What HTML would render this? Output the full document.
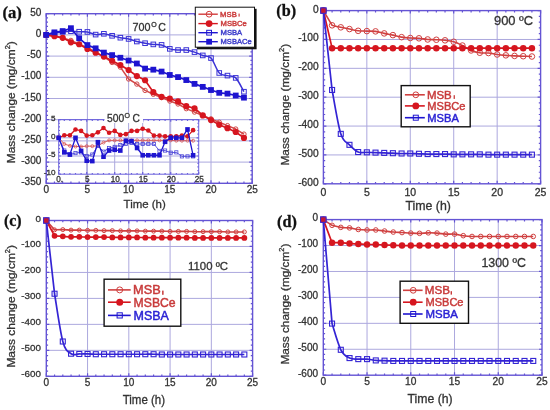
<!DOCTYPE html>
<html><head><meta charset="utf-8"><title>Mass change vs time</title>
<style>
html,body{margin:0;padding:0;background:#fff;}
svg{display:block;will-change:transform;}
svg text{font-family:"Liberation Sans",sans-serif;stroke-width:0.3px;}
svg text.lg{stroke-width:0.45px;}
</style></head>
<body>
<svg width="550" height="410" viewBox="0 0 550 410">
<rect width="550" height="410" fill="#fff"/>
<g fill="#333">
<line x1="46.2" y1="162.1" x2="252.2" y2="162.1" stroke="#aca8de" stroke-width="1"/>
<line x1="46.2" y1="140.9" x2="252.2" y2="140.9" stroke="#aca8de" stroke-width="1"/>
<line x1="46.2" y1="119.7" x2="252.2" y2="119.7" stroke="#aca8de" stroke-width="1"/>
<line x1="46.2" y1="98.5" x2="252.2" y2="98.5" stroke="#aca8de" stroke-width="1"/>
<line x1="46.2" y1="77.3" x2="252.2" y2="77.3" stroke="#aca8de" stroke-width="1"/>
<line x1="46.2" y1="56.1" x2="252.2" y2="56.1" stroke="#aca8de" stroke-width="1"/>
<line x1="46.2" y1="34.9" x2="252.2" y2="34.9" stroke="#aca8de" stroke-width="1"/>
<line x1="87.4" y1="13.7" x2="87.4" y2="183.3" stroke="#aca8de" stroke-width="1"/>
<line x1="128.6" y1="13.7" x2="128.6" y2="183.3" stroke="#aca8de" stroke-width="1"/>
<line x1="169.8" y1="13.7" x2="169.8" y2="183.3" stroke="#aca8de" stroke-width="1"/>
<line x1="211" y1="13.7" x2="211" y2="183.3" stroke="#aca8de" stroke-width="1"/>
<path d="M46.2 183.3h3M252.2 183.3h-3M46.2 179.06h1.8M252.2 179.06h-1.8M46.2 174.82h1.8M252.2 174.82h-1.8M46.2 170.58h1.8M252.2 170.58h-1.8M46.2 166.34h1.8M252.2 166.34h-1.8M46.2 162.1h3M252.2 162.1h-3M46.2 157.86h1.8M252.2 157.86h-1.8M46.2 153.62h1.8M252.2 153.62h-1.8M46.2 149.38h1.8M252.2 149.38h-1.8M46.2 145.14h1.8M252.2 145.14h-1.8M46.2 140.9h3M252.2 140.9h-3M46.2 136.66h1.8M252.2 136.66h-1.8M46.2 132.42h1.8M252.2 132.42h-1.8M46.2 128.18h1.8M252.2 128.18h-1.8M46.2 123.94h1.8M252.2 123.94h-1.8M46.2 119.7h3M252.2 119.7h-3M46.2 115.46h1.8M252.2 115.46h-1.8M46.2 111.22h1.8M252.2 111.22h-1.8M46.2 106.98h1.8M252.2 106.98h-1.8M46.2 102.74h1.8M252.2 102.74h-1.8M46.2 98.5h3M252.2 98.5h-3M46.2 94.26h1.8M252.2 94.26h-1.8M46.2 90.02h1.8M252.2 90.02h-1.8M46.2 85.78h1.8M252.2 85.78h-1.8M46.2 81.54h1.8M252.2 81.54h-1.8M46.2 77.3h3M252.2 77.3h-3M46.2 73.06h1.8M252.2 73.06h-1.8M46.2 68.82h1.8M252.2 68.82h-1.8M46.2 64.58h1.8M252.2 64.58h-1.8M46.2 60.34h1.8M252.2 60.34h-1.8M46.2 56.1h3M252.2 56.1h-3M46.2 51.86h1.8M252.2 51.86h-1.8M46.2 47.62h1.8M252.2 47.62h-1.8M46.2 43.38h1.8M252.2 43.38h-1.8M46.2 39.14h1.8M252.2 39.14h-1.8M46.2 34.9h3M252.2 34.9h-3M46.2 30.66h1.8M252.2 30.66h-1.8M46.2 26.42h1.8M252.2 26.42h-1.8M46.2 22.18h1.8M252.2 22.18h-1.8M46.2 17.94h1.8M252.2 17.94h-1.8M46.2 13.7h3M252.2 13.7h-3M46.2 183.3v-3M46.2 13.7v3M54.44 183.3v-1.8M54.44 13.7v1.8M62.68 183.3v-1.8M62.68 13.7v1.8M70.92 183.3v-1.8M70.92 13.7v1.8M79.16 183.3v-1.8M79.16 13.7v1.8M87.4 183.3v-3M87.4 13.7v3M95.64 183.3v-1.8M95.64 13.7v1.8M103.88 183.3v-1.8M103.88 13.7v1.8M112.12 183.3v-1.8M112.12 13.7v1.8M120.36 183.3v-1.8M120.36 13.7v1.8M128.6 183.3v-3M128.6 13.7v3M136.84 183.3v-1.8M136.84 13.7v1.8M145.08 183.3v-1.8M145.08 13.7v1.8M153.32 183.3v-1.8M153.32 13.7v1.8M161.56 183.3v-1.8M161.56 13.7v1.8M169.8 183.3v-3M169.8 13.7v3M178.04 183.3v-1.8M178.04 13.7v1.8M186.28 183.3v-1.8M186.28 13.7v1.8M194.52 183.3v-1.8M194.52 13.7v1.8M202.76 183.3v-1.8M202.76 13.7v1.8M211 183.3v-3M211 13.7v3M219.24 183.3v-1.8M219.24 13.7v1.8M227.48 183.3v-1.8M227.48 13.7v1.8M235.72 183.3v-1.8M235.72 13.7v1.8M243.96 183.3v-1.8M243.96 13.7v1.8M252.2 183.3v-3M252.2 13.7v3" stroke="#6454d4" stroke-width="1.2" fill="none"/>
<rect x="46.2" y="13.7" width="206" height="169.6" fill="none" stroke="#6454d4" stroke-width="1.4"/>
<text x="41.3" y="185.3" font-size="10" text-anchor="end" stroke="#333">-350</text>
<text x="41.3" y="164.1" font-size="10" text-anchor="end" stroke="#333">-300</text>
<text x="41.3" y="142.9" font-size="10" text-anchor="end" stroke="#333">-250</text>
<text x="41.3" y="121.7" font-size="10" text-anchor="end" stroke="#333">-200</text>
<text x="41.3" y="100.5" font-size="10" text-anchor="end" stroke="#333">-150</text>
<text x="41.3" y="79.3" font-size="10" text-anchor="end" stroke="#333">-100</text>
<text x="41.3" y="58.1" font-size="10" text-anchor="end" stroke="#333">-50</text>
<text x="41.3" y="36.9" font-size="10" text-anchor="end" stroke="#333">0</text>
<text x="41.3" y="15.7" font-size="10" text-anchor="end" stroke="#333">50</text>
<text x="46.2" y="193.1" font-size="10" text-anchor="middle" stroke="#333">0</text>
<text x="87.4" y="193.1" font-size="10" text-anchor="middle" stroke="#333">5</text>
<text x="128.6" y="193.1" font-size="10" text-anchor="middle" stroke="#333">10</text>
<text x="169.8" y="193.1" font-size="10" text-anchor="middle" stroke="#333">15</text>
<text x="211" y="193.1" font-size="10" text-anchor="middle" stroke="#333">20</text>
<text x="252.2" y="193.1" font-size="10" text-anchor="middle" stroke="#333">25</text>
<line x1="58.7" y1="156" x2="198.7" y2="156" stroke="#aca8de" stroke-width="1"/>
<line x1="58.7" y1="137.8" x2="198.7" y2="137.8" stroke="#aca8de" stroke-width="1"/>
<line x1="86.7" y1="119.6" x2="86.7" y2="174.2" stroke="#aca8de" stroke-width="1"/>
<line x1="114.7" y1="119.6" x2="114.7" y2="174.2" stroke="#aca8de" stroke-width="1"/>
<line x1="142.7" y1="119.6" x2="142.7" y2="174.2" stroke="#aca8de" stroke-width="1"/>
<line x1="170.7" y1="119.6" x2="170.7" y2="174.2" stroke="#aca8de" stroke-width="1"/>
<path d="M58.7 174.2h2.2M198.7 174.2h-2.2M58.7 170.56h1.3M198.7 170.56h-1.3M58.7 166.92h1.3M198.7 166.92h-1.3M58.7 163.28h1.3M198.7 163.28h-1.3M58.7 159.64h1.3M198.7 159.64h-1.3M58.7 156h2.2M198.7 156h-2.2M58.7 152.36h1.3M198.7 152.36h-1.3M58.7 148.72h1.3M198.7 148.72h-1.3M58.7 145.08h1.3M198.7 145.08h-1.3M58.7 141.44h1.3M198.7 141.44h-1.3M58.7 137.8h2.2M198.7 137.8h-2.2M58.7 134.16h1.3M198.7 134.16h-1.3M58.7 130.52h1.3M198.7 130.52h-1.3M58.7 126.88h1.3M198.7 126.88h-1.3M58.7 123.24h1.3M198.7 123.24h-1.3M58.7 119.6h2.2M198.7 119.6h-2.2M58.7 174.2v-2.2M58.7 119.6v2.2M64.3 174.2v-1.3M64.3 119.6v1.3M69.9 174.2v-1.3M69.9 119.6v1.3M75.5 174.2v-1.3M75.5 119.6v1.3M81.1 174.2v-1.3M81.1 119.6v1.3M86.7 174.2v-2.2M86.7 119.6v2.2M92.3 174.2v-1.3M92.3 119.6v1.3M97.9 174.2v-1.3M97.9 119.6v1.3M103.5 174.2v-1.3M103.5 119.6v1.3M109.1 174.2v-1.3M109.1 119.6v1.3M114.7 174.2v-2.2M114.7 119.6v2.2M120.3 174.2v-1.3M120.3 119.6v1.3M125.9 174.2v-1.3M125.9 119.6v1.3M131.5 174.2v-1.3M131.5 119.6v1.3M137.1 174.2v-1.3M137.1 119.6v1.3M142.7 174.2v-2.2M142.7 119.6v2.2M148.3 174.2v-1.3M148.3 119.6v1.3M153.9 174.2v-1.3M153.9 119.6v1.3M159.5 174.2v-1.3M159.5 119.6v1.3M165.1 174.2v-1.3M165.1 119.6v1.3M170.7 174.2v-2.2M170.7 119.6v2.2M176.3 174.2v-1.3M176.3 119.6v1.3M181.9 174.2v-1.3M181.9 119.6v1.3M187.5 174.2v-1.3M187.5 119.6v1.3M193.1 174.2v-1.3M193.1 119.6v1.3M198.7 174.2v-2.2M198.7 119.6v2.2" stroke="#6c62dc" stroke-width="1.2" fill="none"/>
<rect x="58.7" y="119.6" width="140" height="54.6" fill="none" stroke="#6c62dc" stroke-width="1.0"/>
<text x="55.4" y="120.5" font-size="8.1" text-anchor="end" stroke="#333">5</text>
<text x="55.4" y="138.7" font-size="8.1" text-anchor="end" stroke="#333">0</text>
<text x="55.4" y="156.9" font-size="8.1" text-anchor="end" stroke="#333">-5</text>
<text x="55.4" y="175.1" font-size="8.1" text-anchor="end" stroke="#333">-10</text>
<text x="59.7" y="182" font-size="8.2" text-anchor="middle" stroke="#333">0.</text>
<text x="87.3" y="182" font-size="8.2" text-anchor="middle" stroke="#333">5</text>
<text x="115.3" y="182" font-size="8.2" text-anchor="middle" stroke="#333">10</text>
<text x="143.3" y="182" font-size="8.2" text-anchor="middle" stroke="#333">15</text>
<text x="171.3" y="182" font-size="8.2" text-anchor="middle" stroke="#333">20</text>
<text x="199.3" y="182" font-size="8.2" text-anchor="middle" stroke="#333">25</text>
<polyline points="58.7,137.8 64.3,143.99 69.9,145.81 75.5,146.54 81.1,146.54 86.7,146.17 92.3,146.17 97.9,145.81 103.5,142.53 109.1,140.35 114.7,140.35 120.3,140.35 125.9,140.35 131.5,140.35 137.1,140.35 142.7,140.35 148.3,140.35 153.9,140.35 159.5,140.35 165.1,140.35 170.7,140.35 176.3,140.71 181.9,140.71 187.5,140.71 193.1,140.71" fill="none" stroke="#d85a5a" stroke-width="1.0" stroke-linejoin="round"/>
<circle cx="58.7" cy="137.8" r="1.5" fill="none" stroke="#d85a5a" stroke-width="0.8"/>
<circle cx="64.3" cy="143.99" r="1.5" fill="none" stroke="#d85a5a" stroke-width="0.8"/>
<circle cx="69.9" cy="145.81" r="1.5" fill="none" stroke="#d85a5a" stroke-width="0.8"/>
<circle cx="75.5" cy="146.54" r="1.5" fill="none" stroke="#d85a5a" stroke-width="0.8"/>
<circle cx="81.1" cy="146.54" r="1.5" fill="none" stroke="#d85a5a" stroke-width="0.8"/>
<circle cx="86.7" cy="146.17" r="1.5" fill="none" stroke="#d85a5a" stroke-width="0.8"/>
<circle cx="92.3" cy="146.17" r="1.5" fill="none" stroke="#d85a5a" stroke-width="0.8"/>
<circle cx="97.9" cy="145.81" r="1.5" fill="none" stroke="#d85a5a" stroke-width="0.8"/>
<circle cx="103.5" cy="142.53" r="1.5" fill="none" stroke="#d85a5a" stroke-width="0.8"/>
<circle cx="109.1" cy="140.35" r="1.5" fill="none" stroke="#d85a5a" stroke-width="0.8"/>
<circle cx="114.7" cy="140.35" r="1.5" fill="none" stroke="#d85a5a" stroke-width="0.8"/>
<circle cx="120.3" cy="140.35" r="1.5" fill="none" stroke="#d85a5a" stroke-width="0.8"/>
<circle cx="125.9" cy="140.35" r="1.5" fill="none" stroke="#d85a5a" stroke-width="0.8"/>
<circle cx="131.5" cy="140.35" r="1.5" fill="none" stroke="#d85a5a" stroke-width="0.8"/>
<circle cx="137.1" cy="140.35" r="1.5" fill="none" stroke="#d85a5a" stroke-width="0.8"/>
<circle cx="142.7" cy="140.35" r="1.5" fill="none" stroke="#d85a5a" stroke-width="0.8"/>
<circle cx="148.3" cy="140.35" r="1.5" fill="none" stroke="#d85a5a" stroke-width="0.8"/>
<circle cx="153.9" cy="140.35" r="1.5" fill="none" stroke="#d85a5a" stroke-width="0.8"/>
<circle cx="159.5" cy="140.35" r="1.5" fill="none" stroke="#d85a5a" stroke-width="0.8"/>
<circle cx="165.1" cy="140.35" r="1.5" fill="none" stroke="#d85a5a" stroke-width="0.8"/>
<circle cx="170.7" cy="140.35" r="1.5" fill="none" stroke="#d85a5a" stroke-width="0.8"/>
<circle cx="176.3" cy="140.71" r="1.5" fill="none" stroke="#d85a5a" stroke-width="0.8"/>
<circle cx="181.9" cy="140.71" r="1.5" fill="none" stroke="#d85a5a" stroke-width="0.8"/>
<circle cx="187.5" cy="140.71" r="1.5" fill="none" stroke="#d85a5a" stroke-width="0.8"/>
<circle cx="193.1" cy="140.71" r="1.5" fill="none" stroke="#d85a5a" stroke-width="0.8"/>
<polyline points="58.7,137.8 64.3,150.54 69.9,154.54 75.5,153.09 81.1,152.36 86.7,156 92.3,154.54 97.9,145.81 103.5,151.63 109.1,147.99 114.7,146.9 120.3,145.08 125.9,143.99 131.5,142.9 137.1,143.99 142.7,143.99 148.3,143.99 153.9,143.99 159.5,150.9 165.1,150.54 170.7,152.72 176.3,152.36 181.9,156.36 187.5,156.36 193.1,156.36" fill="none" stroke="#4a44d8" stroke-width="0.9" stroke-linejoin="round"/>
<rect x="57.1" y="136.2" width="3.2" height="3.2" fill="none" stroke="#4a44d8" stroke-width="0.8"/>
<rect x="62.7" y="148.94" width="3.2" height="3.2" fill="none" stroke="#4a44d8" stroke-width="0.8"/>
<rect x="68.3" y="152.94" width="3.2" height="3.2" fill="none" stroke="#4a44d8" stroke-width="0.8"/>
<rect x="73.9" y="151.49" width="3.2" height="3.2" fill="none" stroke="#4a44d8" stroke-width="0.8"/>
<rect x="79.5" y="150.76" width="3.2" height="3.2" fill="none" stroke="#4a44d8" stroke-width="0.8"/>
<rect x="85.1" y="154.4" width="3.2" height="3.2" fill="none" stroke="#4a44d8" stroke-width="0.8"/>
<rect x="90.7" y="152.94" width="3.2" height="3.2" fill="none" stroke="#4a44d8" stroke-width="0.8"/>
<rect x="96.3" y="144.21" width="3.2" height="3.2" fill="none" stroke="#4a44d8" stroke-width="0.8"/>
<rect x="101.9" y="150.03" width="3.2" height="3.2" fill="none" stroke="#4a44d8" stroke-width="0.8"/>
<rect x="107.5" y="146.39" width="3.2" height="3.2" fill="none" stroke="#4a44d8" stroke-width="0.8"/>
<rect x="113.1" y="145.3" width="3.2" height="3.2" fill="none" stroke="#4a44d8" stroke-width="0.8"/>
<rect x="118.7" y="143.48" width="3.2" height="3.2" fill="none" stroke="#4a44d8" stroke-width="0.8"/>
<rect x="124.3" y="142.39" width="3.2" height="3.2" fill="none" stroke="#4a44d8" stroke-width="0.8"/>
<rect x="129.9" y="141.3" width="3.2" height="3.2" fill="none" stroke="#4a44d8" stroke-width="0.8"/>
<rect x="135.5" y="142.39" width="3.2" height="3.2" fill="none" stroke="#4a44d8" stroke-width="0.8"/>
<rect x="141.1" y="142.39" width="3.2" height="3.2" fill="none" stroke="#4a44d8" stroke-width="0.8"/>
<rect x="146.7" y="142.39" width="3.2" height="3.2" fill="none" stroke="#4a44d8" stroke-width="0.8"/>
<rect x="152.3" y="142.39" width="3.2" height="3.2" fill="none" stroke="#4a44d8" stroke-width="0.8"/>
<rect x="157.9" y="149.3" width="3.2" height="3.2" fill="none" stroke="#4a44d8" stroke-width="0.8"/>
<rect x="163.5" y="148.94" width="3.2" height="3.2" fill="none" stroke="#4a44d8" stroke-width="0.8"/>
<rect x="169.1" y="151.12" width="3.2" height="3.2" fill="none" stroke="#4a44d8" stroke-width="0.8"/>
<rect x="174.7" y="150.76" width="3.2" height="3.2" fill="none" stroke="#4a44d8" stroke-width="0.8"/>
<rect x="180.3" y="154.76" width="3.2" height="3.2" fill="none" stroke="#4a44d8" stroke-width="0.8"/>
<rect x="185.9" y="154.76" width="3.2" height="3.2" fill="none" stroke="#4a44d8" stroke-width="0.8"/>
<rect x="191.5" y="154.76" width="3.2" height="3.2" fill="none" stroke="#4a44d8" stroke-width="0.8"/>
<polyline points="58.7,137.8 64.3,135.25 69.9,135.25 75.5,129.43 81.1,130.88 86.7,135.62 92.3,135.25 97.9,132.34 103.5,127.97 109.1,132.7 114.7,130.88 120.3,134.89 125.9,134.16 131.5,130.88 137.1,130.88 142.7,128.7 148.3,130.52 153.9,135.62 159.5,135.62 165.1,136.34 170.7,136.34 176.3,136.34 181.9,135.62 187.5,136.34 193.1,130.16" fill="none" stroke="#d6161f" stroke-width="1.3" stroke-linejoin="round"/>
<circle cx="58.7" cy="137.8" r="2.3" fill="#d6161f"/>
<circle cx="64.3" cy="135.25" r="2.3" fill="#d6161f"/>
<circle cx="69.9" cy="135.25" r="2.3" fill="#d6161f"/>
<circle cx="75.5" cy="129.43" r="2.3" fill="#d6161f"/>
<circle cx="81.1" cy="130.88" r="2.3" fill="#d6161f"/>
<circle cx="86.7" cy="135.62" r="2.3" fill="#d6161f"/>
<circle cx="92.3" cy="135.25" r="2.3" fill="#d6161f"/>
<circle cx="97.9" cy="132.34" r="2.3" fill="#d6161f"/>
<circle cx="103.5" cy="127.97" r="2.3" fill="#d6161f"/>
<circle cx="109.1" cy="132.7" r="2.3" fill="#d6161f"/>
<circle cx="114.7" cy="130.88" r="2.3" fill="#d6161f"/>
<circle cx="120.3" cy="134.89" r="2.3" fill="#d6161f"/>
<circle cx="125.9" cy="134.16" r="2.3" fill="#d6161f"/>
<circle cx="131.5" cy="130.88" r="2.3" fill="#d6161f"/>
<circle cx="137.1" cy="130.88" r="2.3" fill="#d6161f"/>
<circle cx="142.7" cy="128.7" r="2.3" fill="#d6161f"/>
<circle cx="148.3" cy="130.52" r="2.3" fill="#d6161f"/>
<circle cx="153.9" cy="135.62" r="2.3" fill="#d6161f"/>
<circle cx="159.5" cy="135.62" r="2.3" fill="#d6161f"/>
<circle cx="165.1" cy="136.34" r="2.3" fill="#d6161f"/>
<circle cx="170.7" cy="136.34" r="2.3" fill="#d6161f"/>
<circle cx="176.3" cy="136.34" r="2.3" fill="#d6161f"/>
<circle cx="181.9" cy="135.62" r="2.3" fill="#d6161f"/>
<circle cx="187.5" cy="136.34" r="2.3" fill="#d6161f"/>
<circle cx="193.1" cy="130.16" r="2.3" fill="#d6161f"/>
<polyline points="58.7,137.8 64.3,152.36 69.9,154.54 75.5,137.8 81.1,150.9 86.7,160.73 92.3,161.1 97.9,142.17 103.5,156.73 109.1,150.54 114.7,149.81 120.3,150.54 125.9,140.71 131.5,141.08 137.1,147.99 142.7,155.27 148.3,155.27 153.9,155.27 159.5,155.27 165.1,141.8 170.7,137.8 176.3,137.8 181.9,137.8 187.5,129.43 193.1,155.27" fill="none" stroke="#1e14d0" stroke-width="1.3" stroke-linejoin="round"/>
<rect x="56.4" y="135.5" width="4.6" height="4.6" fill="#1e14d0"/>
<rect x="62" y="150.06" width="4.6" height="4.6" fill="#1e14d0"/>
<rect x="67.6" y="152.24" width="4.6" height="4.6" fill="#1e14d0"/>
<rect x="73.2" y="135.5" width="4.6" height="4.6" fill="#1e14d0"/>
<rect x="78.8" y="148.6" width="4.6" height="4.6" fill="#1e14d0"/>
<rect x="84.4" y="158.43" width="4.6" height="4.6" fill="#1e14d0"/>
<rect x="90" y="158.8" width="4.6" height="4.6" fill="#1e14d0"/>
<rect x="95.6" y="139.87" width="4.6" height="4.6" fill="#1e14d0"/>
<rect x="101.2" y="154.43" width="4.6" height="4.6" fill="#1e14d0"/>
<rect x="106.8" y="148.24" width="4.6" height="4.6" fill="#1e14d0"/>
<rect x="112.4" y="147.51" width="4.6" height="4.6" fill="#1e14d0"/>
<rect x="118" y="148.24" width="4.6" height="4.6" fill="#1e14d0"/>
<rect x="123.6" y="138.41" width="4.6" height="4.6" fill="#1e14d0"/>
<rect x="129.2" y="138.78" width="4.6" height="4.6" fill="#1e14d0"/>
<rect x="134.8" y="145.69" width="4.6" height="4.6" fill="#1e14d0"/>
<rect x="140.4" y="152.97" width="4.6" height="4.6" fill="#1e14d0"/>
<rect x="146" y="152.97" width="4.6" height="4.6" fill="#1e14d0"/>
<rect x="151.6" y="152.97" width="4.6" height="4.6" fill="#1e14d0"/>
<rect x="157.2" y="152.97" width="4.6" height="4.6" fill="#1e14d0"/>
<rect x="162.8" y="139.5" width="4.6" height="4.6" fill="#1e14d0"/>
<rect x="168.4" y="135.5" width="4.6" height="4.6" fill="#1e14d0"/>
<rect x="174" y="135.5" width="4.6" height="4.6" fill="#1e14d0"/>
<rect x="179.6" y="135.5" width="4.6" height="4.6" fill="#1e14d0"/>
<rect x="185.2" y="127.13" width="4.6" height="4.6" fill="#1e14d0"/>
<rect x="190.8" y="152.97" width="4.6" height="4.6" fill="#1e14d0"/>
<rect x="104.5" y="113" width="38.5" height="10" fill="#fff"/>
<text x="107" y="121.7" font-size="10" textLength="17.2" lengthAdjust="spacingAndGlyphs" stroke="#333">500</text>
<text x="124.5" y="117.6" font-size="7" stroke="#333">O</text>
<text x="132.4" y="121.7" font-size="10.4" textLength="7.4" lengthAdjust="spacingAndGlyphs" stroke="#333">C</text>
<polyline points="46.2,34.9 54.44,36.17 62.68,37.87 70.92,40.41 79.16,44.23 87.4,47.62 95.64,51.86 103.88,56.95 112.12,62.46 120.36,67.12 128.6,79 136.84,84.08 145.08,90.44 153.32,94.26 161.56,97.65 169.8,101.04 178.04,104.01 186.28,108.68 194.52,112.07 202.76,115.46 211,118.85 219.24,122.24 227.48,125.64 235.72,129.03 243.96,134.12" fill="none" stroke="#d24848" stroke-width="1.5" stroke-linejoin="round"/>
<circle cx="46.2" cy="34.9" r="2.2" fill="none" stroke="#d24848" stroke-width="1.0"/>
<circle cx="54.44" cy="36.17" r="2.2" fill="none" stroke="#d24848" stroke-width="1.0"/>
<circle cx="62.68" cy="37.87" r="2.2" fill="none" stroke="#d24848" stroke-width="1.0"/>
<circle cx="70.92" cy="40.41" r="2.2" fill="none" stroke="#d24848" stroke-width="1.0"/>
<circle cx="79.16" cy="44.23" r="2.2" fill="none" stroke="#d24848" stroke-width="1.0"/>
<circle cx="87.4" cy="47.62" r="2.2" fill="none" stroke="#d24848" stroke-width="1.0"/>
<circle cx="95.64" cy="51.86" r="2.2" fill="none" stroke="#d24848" stroke-width="1.0"/>
<circle cx="103.88" cy="56.95" r="2.2" fill="none" stroke="#d24848" stroke-width="1.0"/>
<circle cx="112.12" cy="62.46" r="2.2" fill="none" stroke="#d24848" stroke-width="1.0"/>
<circle cx="120.36" cy="67.12" r="2.2" fill="none" stroke="#d24848" stroke-width="1.0"/>
<circle cx="128.6" cy="79" r="2.2" fill="none" stroke="#d24848" stroke-width="1.0"/>
<circle cx="136.84" cy="84.08" r="2.2" fill="none" stroke="#d24848" stroke-width="1.0"/>
<circle cx="145.08" cy="90.44" r="2.2" fill="none" stroke="#d24848" stroke-width="1.0"/>
<circle cx="153.32" cy="94.26" r="2.2" fill="none" stroke="#d24848" stroke-width="1.0"/>
<circle cx="161.56" cy="97.65" r="2.2" fill="none" stroke="#d24848" stroke-width="1.0"/>
<circle cx="169.8" cy="101.04" r="2.2" fill="none" stroke="#d24848" stroke-width="1.0"/>
<circle cx="178.04" cy="104.01" r="2.2" fill="none" stroke="#d24848" stroke-width="1.0"/>
<circle cx="186.28" cy="108.68" r="2.2" fill="none" stroke="#d24848" stroke-width="1.0"/>
<circle cx="194.52" cy="112.07" r="2.2" fill="none" stroke="#d24848" stroke-width="1.0"/>
<circle cx="202.76" cy="115.46" r="2.2" fill="none" stroke="#d24848" stroke-width="1.0"/>
<circle cx="211" cy="118.85" r="2.2" fill="none" stroke="#d24848" stroke-width="1.0"/>
<circle cx="219.24" cy="122.24" r="2.2" fill="none" stroke="#d24848" stroke-width="1.0"/>
<circle cx="227.48" cy="125.64" r="2.2" fill="none" stroke="#d24848" stroke-width="1.0"/>
<circle cx="235.72" cy="129.03" r="2.2" fill="none" stroke="#d24848" stroke-width="1.0"/>
<circle cx="243.96" cy="134.12" r="2.2" fill="none" stroke="#d24848" stroke-width="1.0"/>
<path d="M46.2 34.9L54.44 33.2C55.81 32.99 59.93 32.26 62.68 31.93C65.43 31.6 68.17 31.25 70.92 31.21C73.67 31.18 76.41 31.6 79.16 31.72C81.91 31.84 84.65 31.45 87.4 31.93C90.15 32.41 92.89 34.29 95.64 34.6C98.39 34.91 101.13 33.6 103.88 33.8C106.63 34 109.37 35.14 112.12 35.79C114.87 36.44 117.61 37.18 120.36 37.7C123.11 38.22 125.85 38.29 128.6 38.93C131.35 39.56 134.09 40.8 136.84 41.51C139.59 42.23 142.33 42.73 145.08 43.21C147.83 43.69 150.57 44.11 153.32 44.4C156.07 44.68 158.81 44.16 161.56 44.91C164.31 45.65 167.05 47.99 169.8 48.85C172.55 49.7 175.29 49.84 178.04 50.04C180.79 50.23 183.53 49.69 186.28 50.04C189.03 50.38 191.77 51.22 194.52 52.11C197.27 53.01 200.01 54.43 202.76 55.42C205.51 56.41 208.25 55.12 211 58.05C213.75 60.98 216.49 70.05 219.24 72.98C221.99 75.9 224.73 74.78 227.48 75.6C230.23 76.42 232.97 75.21 235.72 77.89C238.47 80.58 242.59 89.41 243.96 91.72" fill="none" stroke="#3a32d6" stroke-width="1.5" stroke-linejoin="round"/>
<rect x="43.9" y="32.6" width="4.6" height="4.6" fill="none" stroke="#3a32d6" stroke-width="1.0"/>
<rect x="52.14" y="30.9" width="4.6" height="4.6" fill="none" stroke="#3a32d6" stroke-width="1.0"/>
<rect x="60.38" y="29.63" width="4.6" height="4.6" fill="none" stroke="#3a32d6" stroke-width="1.0"/>
<rect x="68.62" y="28.91" width="4.6" height="4.6" fill="none" stroke="#3a32d6" stroke-width="1.0"/>
<rect x="76.86" y="29.42" width="4.6" height="4.6" fill="none" stroke="#3a32d6" stroke-width="1.0"/>
<rect x="85.1" y="29.63" width="4.6" height="4.6" fill="none" stroke="#3a32d6" stroke-width="1.0"/>
<rect x="93.34" y="32.3" width="4.6" height="4.6" fill="none" stroke="#3a32d6" stroke-width="1.0"/>
<rect x="101.58" y="31.5" width="4.6" height="4.6" fill="none" stroke="#3a32d6" stroke-width="1.0"/>
<rect x="109.82" y="33.49" width="4.6" height="4.6" fill="none" stroke="#3a32d6" stroke-width="1.0"/>
<rect x="118.06" y="35.4" width="4.6" height="4.6" fill="none" stroke="#3a32d6" stroke-width="1.0"/>
<rect x="126.3" y="36.63" width="4.6" height="4.6" fill="none" stroke="#3a32d6" stroke-width="1.0"/>
<rect x="134.54" y="39.21" width="4.6" height="4.6" fill="none" stroke="#3a32d6" stroke-width="1.0"/>
<rect x="142.78" y="40.91" width="4.6" height="4.6" fill="none" stroke="#3a32d6" stroke-width="1.0"/>
<rect x="151.02" y="42.1" width="4.6" height="4.6" fill="none" stroke="#3a32d6" stroke-width="1.0"/>
<rect x="159.26" y="42.61" width="4.6" height="4.6" fill="none" stroke="#3a32d6" stroke-width="1.0"/>
<rect x="167.5" y="46.55" width="4.6" height="4.6" fill="none" stroke="#3a32d6" stroke-width="1.0"/>
<rect x="175.74" y="47.74" width="4.6" height="4.6" fill="none" stroke="#3a32d6" stroke-width="1.0"/>
<rect x="183.98" y="47.74" width="4.6" height="4.6" fill="none" stroke="#3a32d6" stroke-width="1.0"/>
<rect x="192.22" y="49.81" width="4.6" height="4.6" fill="none" stroke="#3a32d6" stroke-width="1.0"/>
<rect x="200.46" y="53.12" width="4.6" height="4.6" fill="none" stroke="#3a32d6" stroke-width="1.0"/>
<rect x="208.7" y="55.75" width="4.6" height="4.6" fill="none" stroke="#3a32d6" stroke-width="1.0"/>
<rect x="216.94" y="70.68" width="4.6" height="4.6" fill="none" stroke="#3a32d6" stroke-width="1.0"/>
<rect x="225.18" y="73.3" width="4.6" height="4.6" fill="none" stroke="#3a32d6" stroke-width="1.0"/>
<rect x="233.42" y="75.59" width="4.6" height="4.6" fill="none" stroke="#3a32d6" stroke-width="1.0"/>
<rect x="241.66" y="89.42" width="4.6" height="4.6" fill="none" stroke="#3a32d6" stroke-width="1.0"/>
<polyline points="46.2,34.9 54.44,36.17 62.68,37.87 70.92,42.32 79.16,44.23 87.4,48.89 95.64,52.71 103.88,56.52 112.12,60.76 120.36,65 128.6,70.09 136.84,76.03 145.08,80.27 153.32,92.14 161.56,96.8 169.8,98.5 178.04,101.47 186.28,106.13 194.52,108.25 202.76,115.46 211,120.12 219.24,124.79 227.48,128.18 235.72,132 243.96,137.93" fill="none" stroke="#d6161f" stroke-width="1.7" stroke-linejoin="round"/>
<circle cx="46.2" cy="34.9" r="3.1" fill="#d6161f"/>
<circle cx="54.44" cy="36.17" r="3.1" fill="#d6161f"/>
<circle cx="62.68" cy="37.87" r="3.1" fill="#d6161f"/>
<circle cx="70.92" cy="42.32" r="3.1" fill="#d6161f"/>
<circle cx="79.16" cy="44.23" r="3.1" fill="#d6161f"/>
<circle cx="87.4" cy="48.89" r="3.1" fill="#d6161f"/>
<circle cx="95.64" cy="52.71" r="3.1" fill="#d6161f"/>
<circle cx="103.88" cy="56.52" r="3.1" fill="#d6161f"/>
<circle cx="112.12" cy="60.76" r="3.1" fill="#d6161f"/>
<circle cx="120.36" cy="65" r="3.1" fill="#d6161f"/>
<circle cx="128.6" cy="70.09" r="3.1" fill="#d6161f"/>
<circle cx="136.84" cy="76.03" r="3.1" fill="#d6161f"/>
<circle cx="145.08" cy="80.27" r="3.1" fill="#d6161f"/>
<circle cx="153.32" cy="92.14" r="3.1" fill="#d6161f"/>
<circle cx="161.56" cy="96.8" r="3.1" fill="#d6161f"/>
<circle cx="169.8" cy="98.5" r="3.1" fill="#d6161f"/>
<circle cx="178.04" cy="101.47" r="3.1" fill="#d6161f"/>
<circle cx="186.28" cy="106.13" r="3.1" fill="#d6161f"/>
<circle cx="194.52" cy="108.25" r="3.1" fill="#d6161f"/>
<circle cx="202.76" cy="115.46" r="3.1" fill="#d6161f"/>
<circle cx="211" cy="120.12" r="3.1" fill="#d6161f"/>
<circle cx="219.24" cy="124.79" r="3.1" fill="#d6161f"/>
<circle cx="227.48" cy="128.18" r="3.1" fill="#d6161f"/>
<circle cx="235.72" cy="132" r="3.1" fill="#d6161f"/>
<circle cx="243.96" cy="137.93" r="3.1" fill="#d6161f"/>
<polyline points="46.2,34.9 54.44,32.36 62.68,31.08 70.92,28.2 79.16,38.29 87.4,45.08 95.64,48.34 103.88,52.62 112.12,55.12 120.36,57.75 128.6,60.55 136.84,63.52 145.08,68.61 153.32,69.67 161.56,71.58 169.8,74.97 178.04,77.09 186.28,80.06 194.52,83.87 202.76,86.88 211,90.02 219.24,92.82 227.48,93.62 235.72,95.53 243.96,97.65" fill="none" stroke="#1e14d0" stroke-width="1.7" stroke-linejoin="round"/>
<rect x="43.3" y="32" width="5.8" height="5.8" fill="#1e14d0"/>
<rect x="51.54" y="29.46" width="5.8" height="5.8" fill="#1e14d0"/>
<rect x="59.78" y="28.18" width="5.8" height="5.8" fill="#1e14d0"/>
<rect x="68.02" y="25.3" width="5.8" height="5.8" fill="#1e14d0"/>
<rect x="76.26" y="35.39" width="5.8" height="5.8" fill="#1e14d0"/>
<rect x="84.5" y="42.18" width="5.8" height="5.8" fill="#1e14d0"/>
<rect x="92.74" y="45.44" width="5.8" height="5.8" fill="#1e14d0"/>
<rect x="100.98" y="49.72" width="5.8" height="5.8" fill="#1e14d0"/>
<rect x="109.22" y="52.22" width="5.8" height="5.8" fill="#1e14d0"/>
<rect x="117.46" y="54.85" width="5.8" height="5.8" fill="#1e14d0"/>
<rect x="125.7" y="57.65" width="5.8" height="5.8" fill="#1e14d0"/>
<rect x="133.94" y="60.62" width="5.8" height="5.8" fill="#1e14d0"/>
<rect x="142.18" y="65.71" width="5.8" height="5.8" fill="#1e14d0"/>
<rect x="150.42" y="66.77" width="5.8" height="5.8" fill="#1e14d0"/>
<rect x="158.66" y="68.68" width="5.8" height="5.8" fill="#1e14d0"/>
<rect x="166.9" y="72.07" width="5.8" height="5.8" fill="#1e14d0"/>
<rect x="175.14" y="74.19" width="5.8" height="5.8" fill="#1e14d0"/>
<rect x="183.38" y="77.16" width="5.8" height="5.8" fill="#1e14d0"/>
<rect x="191.62" y="80.97" width="5.8" height="5.8" fill="#1e14d0"/>
<rect x="199.86" y="83.98" width="5.8" height="5.8" fill="#1e14d0"/>
<rect x="208.1" y="87.12" width="5.8" height="5.8" fill="#1e14d0"/>
<rect x="216.34" y="89.92" width="5.8" height="5.8" fill="#1e14d0"/>
<rect x="224.58" y="90.72" width="5.8" height="5.8" fill="#1e14d0"/>
<rect x="232.82" y="92.63" width="5.8" height="5.8" fill="#1e14d0"/>
<rect x="241.06" y="94.75" width="5.8" height="5.8" fill="#1e14d0"/>
<text x="132.6" y="30.8" font-size="11" textLength="18" lengthAdjust="spacingAndGlyphs" stroke="#333">700</text>
<text x="151.2" y="26.9" font-size="7" stroke="#333">O</text>
<text x="158.3" y="30.8" font-size="11" textLength="7.6" lengthAdjust="spacingAndGlyphs" stroke="#333">C</text>
<rect x="196.9" y="8.8" width="59.7" height="40.5" fill="#111"/>
<rect x="195.3" y="7.2" width="59.2" height="40" fill="#fff" stroke="#111" stroke-width="1.0"/>
<line x1="198.4" y1="14.2" x2="217.8" y2="14.2" stroke="#d23c3c" stroke-width="1.4"/>
<circle cx="209.1" cy="14.2" r="2.9" fill="none" stroke="#d23c3c" stroke-width="1.0"/>
<text class="lg" x="220.12" y="16.94" font-size="7.6" fill="#cc4040" textLength="16.66" lengthAdjust="spacingAndGlyphs" stroke="#cc4040">MSB</text>
<rect x="238.5" y="13.6" width="1.2" height="3" fill="#cc4040"/>
<line x1="198.4" y1="23.6" x2="217.8" y2="23.6" stroke="#d6161f" stroke-width="1.4"/>
<circle cx="209.1" cy="23.6" r="3.4" fill="#d6161f"/>
<text class="lg" x="220.6" y="26.34" font-size="7.6" fill="#cc4040" textLength="26.2" lengthAdjust="spacingAndGlyphs" stroke="#cc4040">MSBCe</text>
<line x1="198.4" y1="32.7" x2="217.8" y2="32.7" stroke="#1e14d0" stroke-width="1.4"/>
<rect x="206.7" y="30.3" width="4.8" height="4.8" fill="none" stroke="#1e14d0" stroke-width="1.0"/>
<text class="lg" x="220.6" y="35.44" font-size="7.6" fill="#4040cc" textLength="21.6" lengthAdjust="spacingAndGlyphs" stroke="#4040cc">MSBA</text>
<line x1="198.4" y1="41.7" x2="217.8" y2="41.7" stroke="#1e14d0" stroke-width="1.4"/>
<rect x="206.2" y="38.8" width="5.8" height="5.8" fill="#1e14d0"/>
<text class="lg" x="220.6" y="44.44" font-size="7.6" fill="#4040cc" textLength="31" lengthAdjust="spacingAndGlyphs" stroke="#4040cc">MSBACe</text>
<line x1="323.4" y1="154.93" x2="540.6" y2="154.93" stroke="#aca8de" stroke-width="1"/>
<line x1="323.4" y1="126.07" x2="540.6" y2="126.07" stroke="#aca8de" stroke-width="1"/>
<line x1="323.4" y1="97.2" x2="540.6" y2="97.2" stroke="#aca8de" stroke-width="1"/>
<line x1="323.4" y1="68.33" x2="540.6" y2="68.33" stroke="#aca8de" stroke-width="1"/>
<line x1="323.4" y1="39.47" x2="540.6" y2="39.47" stroke="#aca8de" stroke-width="1"/>
<line x1="366.84" y1="10.6" x2="366.84" y2="183.8" stroke="#aca8de" stroke-width="1"/>
<line x1="410.28" y1="10.6" x2="410.28" y2="183.8" stroke="#aca8de" stroke-width="1"/>
<line x1="453.72" y1="10.6" x2="453.72" y2="183.8" stroke="#aca8de" stroke-width="1"/>
<line x1="497.16" y1="10.6" x2="497.16" y2="183.8" stroke="#aca8de" stroke-width="1"/>
<path d="M323.4 183.8h3M540.6 183.8h-3M323.4 178.03h1.8M540.6 178.03h-1.8M323.4 172.25h1.8M540.6 172.25h-1.8M323.4 166.48h1.8M540.6 166.48h-1.8M323.4 160.71h1.8M540.6 160.71h-1.8M323.4 154.93h3M540.6 154.93h-3M323.4 149.16h1.8M540.6 149.16h-1.8M323.4 143.39h1.8M540.6 143.39h-1.8M323.4 137.61h1.8M540.6 137.61h-1.8M323.4 131.84h1.8M540.6 131.84h-1.8M323.4 126.07h3M540.6 126.07h-3M323.4 120.29h1.8M540.6 120.29h-1.8M323.4 114.52h1.8M540.6 114.52h-1.8M323.4 108.75h1.8M540.6 108.75h-1.8M323.4 102.97h1.8M540.6 102.97h-1.8M323.4 97.2h3M540.6 97.2h-3M323.4 91.43h1.8M540.6 91.43h-1.8M323.4 85.65h1.8M540.6 85.65h-1.8M323.4 79.88h1.8M540.6 79.88h-1.8M323.4 74.11h1.8M540.6 74.11h-1.8M323.4 68.33h3M540.6 68.33h-3M323.4 62.56h1.8M540.6 62.56h-1.8M323.4 56.79h1.8M540.6 56.79h-1.8M323.4 51.01h1.8M540.6 51.01h-1.8M323.4 45.24h1.8M540.6 45.24h-1.8M323.4 39.47h3M540.6 39.47h-3M323.4 33.69h1.8M540.6 33.69h-1.8M323.4 27.92h1.8M540.6 27.92h-1.8M323.4 22.15h1.8M540.6 22.15h-1.8M323.4 16.37h1.8M540.6 16.37h-1.8M323.4 10.6h3M540.6 10.6h-3M323.4 183.8v-3M323.4 10.6v3M332.09 183.8v-1.8M332.09 10.6v1.8M340.78 183.8v-1.8M340.78 10.6v1.8M349.46 183.8v-1.8M349.46 10.6v1.8M358.15 183.8v-1.8M358.15 10.6v1.8M366.84 183.8v-3M366.84 10.6v3M375.53 183.8v-1.8M375.53 10.6v1.8M384.22 183.8v-1.8M384.22 10.6v1.8M392.9 183.8v-1.8M392.9 10.6v1.8M401.59 183.8v-1.8M401.59 10.6v1.8M410.28 183.8v-3M410.28 10.6v3M418.97 183.8v-1.8M418.97 10.6v1.8M427.66 183.8v-1.8M427.66 10.6v1.8M436.34 183.8v-1.8M436.34 10.6v1.8M445.03 183.8v-1.8M445.03 10.6v1.8M453.72 183.8v-3M453.72 10.6v3M462.41 183.8v-1.8M462.41 10.6v1.8M471.1 183.8v-1.8M471.1 10.6v1.8M479.78 183.8v-1.8M479.78 10.6v1.8M488.47 183.8v-1.8M488.47 10.6v1.8M497.16 183.8v-3M497.16 10.6v3M505.85 183.8v-1.8M505.85 10.6v1.8M514.54 183.8v-1.8M514.54 10.6v1.8M523.22 183.8v-1.8M523.22 10.6v1.8M531.91 183.8v-1.8M531.91 10.6v1.8M540.6 183.8v-3M540.6 10.6v3" stroke="#6454d4" stroke-width="1.2" fill="none"/>
<rect x="323.4" y="10.6" width="217.2" height="173.2" fill="none" stroke="#6454d4" stroke-width="1.4"/>
<text x="318.6" y="185.8" font-size="10.2" text-anchor="end" stroke="#333">-600</text>
<text x="318.6" y="156.93" font-size="10.2" text-anchor="end" stroke="#333">-500</text>
<text x="318.6" y="128.07" font-size="10.2" text-anchor="end" stroke="#333">-400</text>
<text x="318.6" y="99.2" font-size="10.2" text-anchor="end" stroke="#333">-300</text>
<text x="318.6" y="70.33" font-size="10.2" text-anchor="end" stroke="#333">-200</text>
<text x="318.6" y="41.47" font-size="10.2" text-anchor="end" stroke="#333">-100</text>
<text x="318.6" y="12.6" font-size="10.2" text-anchor="end" stroke="#333">0</text>
<text x="323.4" y="195.6" font-size="10.5" text-anchor="middle" stroke="#333">0</text>
<text x="366.84" y="195.6" font-size="10.5" text-anchor="middle" stroke="#333">5</text>
<text x="410.28" y="195.6" font-size="10.5" text-anchor="middle" stroke="#333">10</text>
<text x="453.72" y="195.6" font-size="10.5" text-anchor="middle" stroke="#333">15</text>
<text x="497.16" y="195.6" font-size="10.5" text-anchor="middle" stroke="#333">20</text>
<text x="540.6" y="195.6" font-size="10.5" text-anchor="middle" stroke="#333">25</text>
<path d="M323.4 10.6L332.09 25.32C333.54 25.66 337.88 26.72 340.78 27.34C343.67 27.97 346.57 28.5 349.46 29.07C352.36 29.65 355.26 30.47 358.15 30.81C361.05 31.14 363.94 31 366.84 31.1C369.74 31.19 372.63 31 375.53 31.38C378.42 31.77 381.32 32.78 384.22 33.4C387.11 34.03 390.01 34.51 392.9 35.14C395.8 35.76 398.7 36.68 401.59 37.16C404.49 37.64 407.38 37.83 410.28 38.02C413.18 38.22 416.07 38.07 418.97 38.31C421.86 38.55 424.76 39.23 427.66 39.47C430.55 39.71 433.45 39.61 436.34 39.76C439.24 39.9 442.14 40 445.03 40.33C447.93 40.67 450.82 40.91 453.72 41.78C456.62 42.64 459.51 44.09 462.41 45.53C465.3 46.97 468.2 49.23 471.1 50.44C473.99 51.64 476.89 52.31 479.78 52.75C482.68 53.18 485.58 52.75 488.47 53.03C491.37 53.32 494.26 54.09 497.16 54.48C500.06 54.86 502.95 55.1 505.85 55.34C508.74 55.58 511.64 55.78 514.54 55.92C517.43 56.07 520.33 56.11 523.22 56.21C526.12 56.31 530.46 56.45 531.91 56.5" fill="none" stroke="#d04040" stroke-width="1.6" stroke-linejoin="round"/>
<circle cx="323.4" cy="10.6" r="2.8" fill="none" stroke="#d04040" stroke-width="1.0"/>
<circle cx="332.09" cy="25.32" r="2.8" fill="none" stroke="#d04040" stroke-width="1.0"/>
<circle cx="340.78" cy="27.34" r="2.8" fill="none" stroke="#d04040" stroke-width="1.0"/>
<circle cx="349.46" cy="29.07" r="2.8" fill="none" stroke="#d04040" stroke-width="1.0"/>
<circle cx="358.15" cy="30.81" r="2.8" fill="none" stroke="#d04040" stroke-width="1.0"/>
<circle cx="366.84" cy="31.1" r="2.8" fill="none" stroke="#d04040" stroke-width="1.0"/>
<circle cx="375.53" cy="31.38" r="2.8" fill="none" stroke="#d04040" stroke-width="1.0"/>
<circle cx="384.22" cy="33.4" r="2.8" fill="none" stroke="#d04040" stroke-width="1.0"/>
<circle cx="392.9" cy="35.14" r="2.8" fill="none" stroke="#d04040" stroke-width="1.0"/>
<circle cx="401.59" cy="37.16" r="2.8" fill="none" stroke="#d04040" stroke-width="1.0"/>
<circle cx="410.28" cy="38.02" r="2.8" fill="none" stroke="#d04040" stroke-width="1.0"/>
<circle cx="418.97" cy="38.31" r="2.8" fill="none" stroke="#d04040" stroke-width="1.0"/>
<circle cx="427.66" cy="39.47" r="2.8" fill="none" stroke="#d04040" stroke-width="1.0"/>
<circle cx="436.34" cy="39.76" r="2.8" fill="none" stroke="#d04040" stroke-width="1.0"/>
<circle cx="445.03" cy="40.33" r="2.8" fill="none" stroke="#d04040" stroke-width="1.0"/>
<circle cx="453.72" cy="41.78" r="2.8" fill="none" stroke="#d04040" stroke-width="1.0"/>
<circle cx="462.41" cy="45.53" r="2.8" fill="none" stroke="#d04040" stroke-width="1.0"/>
<circle cx="471.1" cy="50.44" r="2.8" fill="none" stroke="#d04040" stroke-width="1.0"/>
<circle cx="479.78" cy="52.75" r="2.8" fill="none" stroke="#d04040" stroke-width="1.0"/>
<circle cx="488.47" cy="53.03" r="2.8" fill="none" stroke="#d04040" stroke-width="1.0"/>
<circle cx="497.16" cy="54.48" r="2.8" fill="none" stroke="#d04040" stroke-width="1.0"/>
<circle cx="505.85" cy="55.34" r="2.8" fill="none" stroke="#d04040" stroke-width="1.0"/>
<circle cx="514.54" cy="55.92" r="2.8" fill="none" stroke="#d04040" stroke-width="1.0"/>
<circle cx="523.22" cy="56.21" r="2.8" fill="none" stroke="#d04040" stroke-width="1.0"/>
<circle cx="531.91" cy="56.5" r="2.8" fill="none" stroke="#d04040" stroke-width="1.0"/>
<path d="M323.4 10.6L332.09 48.13C333.54 48.13 337.88 48.13 340.78 48.13C343.67 48.13 346.57 48.13 349.46 48.13C352.36 48.13 355.26 48.13 358.15 48.13C361.05 48.13 363.94 48.13 366.84 48.13C369.74 48.13 372.63 48.13 375.53 48.13C378.42 48.13 381.32 48.13 384.22 48.13C387.11 48.13 390.01 48.13 392.9 48.13C395.8 48.13 398.7 48.13 401.59 48.13C404.49 48.13 407.38 48.13 410.28 48.13C413.18 48.13 416.07 48.13 418.97 48.13C421.86 48.13 424.76 48.13 427.66 48.13C430.55 48.13 433.45 48.13 436.34 48.13C439.24 48.13 442.14 48.13 445.03 48.13C447.93 48.13 450.82 48.13 453.72 48.13C456.62 48.13 459.51 48.13 462.41 48.13C465.3 48.13 468.2 48.13 471.1 48.13C473.99 48.13 476.89 48.13 479.78 48.13C482.68 48.13 485.58 48.13 488.47 48.13C491.37 48.13 494.26 48.13 497.16 48.13C500.06 48.13 502.95 48.13 505.85 48.13C508.74 48.13 511.64 48.13 514.54 48.13C517.43 48.13 520.33 48.13 523.22 48.13C526.12 48.13 530.46 48.13 531.91 48.13" fill="none" stroke="#d6161f" stroke-width="1.7" stroke-linejoin="round"/>
<circle cx="323.4" cy="10.6" r="3.25" fill="#d6161f"/>
<circle cx="332.09" cy="48.13" r="3.25" fill="#d6161f"/>
<circle cx="340.78" cy="48.13" r="3.25" fill="#d6161f"/>
<circle cx="349.46" cy="48.13" r="3.25" fill="#d6161f"/>
<circle cx="358.15" cy="48.13" r="3.25" fill="#d6161f"/>
<circle cx="366.84" cy="48.13" r="3.25" fill="#d6161f"/>
<circle cx="375.53" cy="48.13" r="3.25" fill="#d6161f"/>
<circle cx="384.22" cy="48.13" r="3.25" fill="#d6161f"/>
<circle cx="392.9" cy="48.13" r="3.25" fill="#d6161f"/>
<circle cx="401.59" cy="48.13" r="3.25" fill="#d6161f"/>
<circle cx="410.28" cy="48.13" r="3.25" fill="#d6161f"/>
<circle cx="418.97" cy="48.13" r="3.25" fill="#d6161f"/>
<circle cx="427.66" cy="48.13" r="3.25" fill="#d6161f"/>
<circle cx="436.34" cy="48.13" r="3.25" fill="#d6161f"/>
<circle cx="445.03" cy="48.13" r="3.25" fill="#d6161f"/>
<circle cx="453.72" cy="48.13" r="3.25" fill="#d6161f"/>
<circle cx="462.41" cy="48.13" r="3.25" fill="#d6161f"/>
<circle cx="471.1" cy="48.13" r="3.25" fill="#d6161f"/>
<circle cx="479.78" cy="48.13" r="3.25" fill="#d6161f"/>
<circle cx="488.47" cy="48.13" r="3.25" fill="#d6161f"/>
<circle cx="497.16" cy="48.13" r="3.25" fill="#d6161f"/>
<circle cx="505.85" cy="48.13" r="3.25" fill="#d6161f"/>
<circle cx="514.54" cy="48.13" r="3.25" fill="#d6161f"/>
<circle cx="523.22" cy="48.13" r="3.25" fill="#d6161f"/>
<circle cx="531.91" cy="48.13" r="3.25" fill="#d6161f"/>
<path d="M323.4 10.6L332.09 89.98C333.54 97.3 337.88 124.72 340.78 133.86C343.67 143 346.57 141.8 349.46 144.83C352.36 147.86 355.26 150.8 358.15 152.05C361.05 153.3 363.94 152.24 366.84 152.34C369.74 152.43 372.63 152.53 375.53 152.62C378.42 152.72 381.32 152.82 384.22 152.91C387.11 153.01 390.01 153.11 392.9 153.2C395.8 153.3 398.7 153.44 401.59 153.49C404.49 153.54 407.38 153.44 410.28 153.49C413.18 153.54 416.07 153.68 418.97 153.78C421.86 153.87 424.76 154.02 427.66 154.07C430.55 154.12 433.45 154.07 436.34 154.07C439.24 154.07 442.14 154.02 445.03 154.07C447.93 154.12 450.82 154.31 453.72 154.36C456.62 154.4 459.51 154.36 462.41 154.36C465.3 154.36 468.2 154.36 471.1 154.36C473.99 154.36 476.89 154.31 479.78 154.36C482.68 154.4 485.58 154.6 488.47 154.64C491.37 154.69 494.26 154.64 497.16 154.64C500.06 154.64 502.95 154.64 505.85 154.64C508.74 154.64 511.64 154.64 514.54 154.64C517.43 154.64 520.33 154.64 523.22 154.64C526.12 154.64 530.46 154.64 531.91 154.64" fill="none" stroke="#3424d4" stroke-width="1.7" stroke-linejoin="round"/>
<rect x="320.9" y="8.1" width="5" height="5" fill="none" stroke="#3424d4" stroke-width="1.1"/>
<rect x="329.59" y="87.48" width="5" height="5" fill="none" stroke="#3424d4" stroke-width="1.1"/>
<rect x="338.28" y="131.36" width="5" height="5" fill="none" stroke="#3424d4" stroke-width="1.1"/>
<rect x="346.96" y="142.33" width="5" height="5" fill="none" stroke="#3424d4" stroke-width="1.1"/>
<rect x="355.65" y="149.55" width="5" height="5" fill="none" stroke="#3424d4" stroke-width="1.1"/>
<rect x="364.34" y="149.84" width="5" height="5" fill="none" stroke="#3424d4" stroke-width="1.1"/>
<rect x="373.03" y="150.12" width="5" height="5" fill="none" stroke="#3424d4" stroke-width="1.1"/>
<rect x="381.72" y="150.41" width="5" height="5" fill="none" stroke="#3424d4" stroke-width="1.1"/>
<rect x="390.4" y="150.7" width="5" height="5" fill="none" stroke="#3424d4" stroke-width="1.1"/>
<rect x="399.09" y="150.99" width="5" height="5" fill="none" stroke="#3424d4" stroke-width="1.1"/>
<rect x="407.78" y="150.99" width="5" height="5" fill="none" stroke="#3424d4" stroke-width="1.1"/>
<rect x="416.47" y="151.28" width="5" height="5" fill="none" stroke="#3424d4" stroke-width="1.1"/>
<rect x="425.16" y="151.57" width="5" height="5" fill="none" stroke="#3424d4" stroke-width="1.1"/>
<rect x="433.84" y="151.57" width="5" height="5" fill="none" stroke="#3424d4" stroke-width="1.1"/>
<rect x="442.53" y="151.57" width="5" height="5" fill="none" stroke="#3424d4" stroke-width="1.1"/>
<rect x="451.22" y="151.86" width="5" height="5" fill="none" stroke="#3424d4" stroke-width="1.1"/>
<rect x="459.91" y="151.86" width="5" height="5" fill="none" stroke="#3424d4" stroke-width="1.1"/>
<rect x="468.6" y="151.86" width="5" height="5" fill="none" stroke="#3424d4" stroke-width="1.1"/>
<rect x="477.28" y="151.86" width="5" height="5" fill="none" stroke="#3424d4" stroke-width="1.1"/>
<rect x="485.97" y="152.14" width="5" height="5" fill="none" stroke="#3424d4" stroke-width="1.1"/>
<rect x="494.66" y="152.14" width="5" height="5" fill="none" stroke="#3424d4" stroke-width="1.1"/>
<rect x="503.35" y="152.14" width="5" height="5" fill="none" stroke="#3424d4" stroke-width="1.1"/>
<rect x="512.04" y="152.14" width="5" height="5" fill="none" stroke="#3424d4" stroke-width="1.1"/>
<rect x="520.72" y="152.14" width="5" height="5" fill="none" stroke="#3424d4" stroke-width="1.1"/>
<rect x="529.41" y="152.14" width="5" height="5" fill="none" stroke="#3424d4" stroke-width="1.1"/>
<text x="494" y="25.4" font-size="12.9" stroke="#333">900 ºC</text>
<rect x="401.2" y="85.6" width="69" height="41.2" fill="#fff" stroke="#111" stroke-width="1.4"/>
<line x1="404.9" y1="94.8" x2="424.8" y2="94.8" stroke="#d04040" stroke-width="1.6"/>
<circle cx="415.8" cy="94.8" r="2.9" fill="none" stroke="#d04040" stroke-width="1.0"/>
<text class="lg" x="426.94" y="98.87" font-size="11.3" fill="#c83a3a" textLength="24.82" lengthAdjust="spacingAndGlyphs" stroke="#c83a3a">MSB</text>
<rect x="453.6" y="95.2" width="1.3" height="3.7" fill="#c83a3a"/>
<line x1="404.9" y1="105.9" x2="424.8" y2="105.9" stroke="#d6161f" stroke-width="1.6"/>
<circle cx="415.8" cy="105.9" r="3.4" fill="#d6161f"/>
<text class="lg" x="427.3" y="109.97" font-size="11.3" fill="#c83a3a" textLength="38.2" lengthAdjust="spacingAndGlyphs" stroke="#c83a3a">MSBCe</text>
<line x1="404.9" y1="117.7" x2="424.8" y2="117.7" stroke="#1e14d0" stroke-width="1.6"/>
<rect x="413.3" y="115.2" width="5" height="5" fill="none" stroke="#1e14d0" stroke-width="1.0"/>
<text class="lg" x="427.3" y="121.77" font-size="11.3" fill="#2a22d4" textLength="31.6" lengthAdjust="spacingAndGlyphs" stroke="#2a22d4">MSBA</text>
<line x1="46.3" y1="350.33" x2="252.6" y2="350.33" stroke="#aca8de" stroke-width="1"/>
<line x1="46.3" y1="324.37" x2="252.6" y2="324.37" stroke="#aca8de" stroke-width="1"/>
<line x1="46.3" y1="298.4" x2="252.6" y2="298.4" stroke="#aca8de" stroke-width="1"/>
<line x1="46.3" y1="272.43" x2="252.6" y2="272.43" stroke="#aca8de" stroke-width="1"/>
<line x1="46.3" y1="246.47" x2="252.6" y2="246.47" stroke="#aca8de" stroke-width="1"/>
<line x1="87.56" y1="220.5" x2="87.56" y2="376.3" stroke="#aca8de" stroke-width="1"/>
<line x1="128.82" y1="220.5" x2="128.82" y2="376.3" stroke="#aca8de" stroke-width="1"/>
<line x1="170.08" y1="220.5" x2="170.08" y2="376.3" stroke="#aca8de" stroke-width="1"/>
<line x1="211.34" y1="220.5" x2="211.34" y2="376.3" stroke="#aca8de" stroke-width="1"/>
<path d="M46.3 376.3h3M252.6 376.3h-3M46.3 371.11h1.8M252.6 371.11h-1.8M46.3 365.91h1.8M252.6 365.91h-1.8M46.3 360.72h1.8M252.6 360.72h-1.8M46.3 355.53h1.8M252.6 355.53h-1.8M46.3 350.33h3M252.6 350.33h-3M46.3 345.14h1.8M252.6 345.14h-1.8M46.3 339.95h1.8M252.6 339.95h-1.8M46.3 334.75h1.8M252.6 334.75h-1.8M46.3 329.56h1.8M252.6 329.56h-1.8M46.3 324.37h3M252.6 324.37h-3M46.3 319.17h1.8M252.6 319.17h-1.8M46.3 313.98h1.8M252.6 313.98h-1.8M46.3 308.79h1.8M252.6 308.79h-1.8M46.3 303.59h1.8M252.6 303.59h-1.8M46.3 298.4h3M252.6 298.4h-3M46.3 293.21h1.8M252.6 293.21h-1.8M46.3 288.01h1.8M252.6 288.01h-1.8M46.3 282.82h1.8M252.6 282.82h-1.8M46.3 277.63h1.8M252.6 277.63h-1.8M46.3 272.43h3M252.6 272.43h-3M46.3 267.24h1.8M252.6 267.24h-1.8M46.3 262.05h1.8M252.6 262.05h-1.8M46.3 256.85h1.8M252.6 256.85h-1.8M46.3 251.66h1.8M252.6 251.66h-1.8M46.3 246.47h3M252.6 246.47h-3M46.3 241.27h1.8M252.6 241.27h-1.8M46.3 236.08h1.8M252.6 236.08h-1.8M46.3 230.89h1.8M252.6 230.89h-1.8M46.3 225.69h1.8M252.6 225.69h-1.8M46.3 220.5h3M252.6 220.5h-3M46.3 376.3v-3M46.3 220.5v3M54.55 376.3v-1.8M54.55 220.5v1.8M62.8 376.3v-1.8M62.8 220.5v1.8M71.06 376.3v-1.8M71.06 220.5v1.8M79.31 376.3v-1.8M79.31 220.5v1.8M87.56 376.3v-3M87.56 220.5v3M95.81 376.3v-1.8M95.81 220.5v1.8M104.06 376.3v-1.8M104.06 220.5v1.8M112.32 376.3v-1.8M112.32 220.5v1.8M120.57 376.3v-1.8M120.57 220.5v1.8M128.82 376.3v-3M128.82 220.5v3M137.07 376.3v-1.8M137.07 220.5v1.8M145.32 376.3v-1.8M145.32 220.5v1.8M153.58 376.3v-1.8M153.58 220.5v1.8M161.83 376.3v-1.8M161.83 220.5v1.8M170.08 376.3v-3M170.08 220.5v3M178.33 376.3v-1.8M178.33 220.5v1.8M186.58 376.3v-1.8M186.58 220.5v1.8M194.84 376.3v-1.8M194.84 220.5v1.8M203.09 376.3v-1.8M203.09 220.5v1.8M211.34 376.3v-3M211.34 220.5v3M219.59 376.3v-1.8M219.59 220.5v1.8M227.84 376.3v-1.8M227.84 220.5v1.8M236.1 376.3v-1.8M236.1 220.5v1.8M244.35 376.3v-1.8M244.35 220.5v1.8M252.6 376.3v-3M252.6 220.5v3" stroke="#6454d4" stroke-width="1.2" fill="none"/>
<rect x="46.3" y="220.5" width="206.3" height="155.8" fill="none" stroke="#6454d4" stroke-width="1.4"/>
<text x="40.9" y="377.3" font-size="9.8" text-anchor="end" stroke="#333">-600</text>
<text x="40.9" y="351.33" font-size="9.8" text-anchor="end" stroke="#333">-500</text>
<text x="40.9" y="325.37" font-size="9.8" text-anchor="end" stroke="#333">-400</text>
<text x="40.9" y="299.4" font-size="9.8" text-anchor="end" stroke="#333">-300</text>
<text x="40.9" y="273.43" font-size="9.8" text-anchor="end" stroke="#333">-200</text>
<text x="40.9" y="247.47" font-size="9.8" text-anchor="end" stroke="#333">-100</text>
<text x="40.9" y="221.5" font-size="9.8" text-anchor="end" stroke="#333">0</text>
<text x="46.3" y="385.9" font-size="10" text-anchor="middle" stroke="#333">0</text>
<text x="87.56" y="385.9" font-size="10" text-anchor="middle" stroke="#333">5</text>
<text x="128.82" y="385.9" font-size="10" text-anchor="middle" stroke="#333">10</text>
<text x="170.08" y="385.9" font-size="10" text-anchor="middle" stroke="#333">15</text>
<text x="211.34" y="385.9" font-size="10" text-anchor="middle" stroke="#333">20</text>
<text x="252.6" y="385.9" font-size="10" text-anchor="middle" stroke="#333">25</text>
<path d="M46.3 220.5L54.55 229.85C55.93 229.8 60.05 229.55 62.8 229.59C65.55 229.63 68.31 230.02 71.06 230.11C73.81 230.19 76.56 230.06 79.31 230.11C82.06 230.15 84.81 230.32 87.56 230.37C90.31 230.41 93.06 230.32 95.81 230.37C98.56 230.41 101.31 230.58 104.06 230.63C106.81 230.67 109.57 230.58 112.32 230.63C115.07 230.67 117.82 230.84 120.57 230.89C123.32 230.93 126.07 230.89 128.82 230.89C131.57 230.89 134.32 230.84 137.07 230.89C139.82 230.93 142.57 231.1 145.32 231.15C148.07 231.19 150.83 231.15 153.58 231.15C156.33 231.15 159.08 231.1 161.83 231.15C164.58 231.19 167.33 231.36 170.08 231.41C172.83 231.45 175.58 231.41 178.33 231.41C181.08 231.41 183.83 231.36 186.58 231.41C189.33 231.45 192.09 231.62 194.84 231.67C197.59 231.71 200.34 231.67 203.09 231.67C205.84 231.67 208.59 231.67 211.34 231.67C214.09 231.67 216.84 231.62 219.59 231.67C222.34 231.71 225.09 231.88 227.84 231.93C230.59 231.97 233.35 231.93 236.1 231.93C238.85 231.93 242.97 231.93 244.35 231.93" fill="none" stroke="#d04040" stroke-width="1.6" stroke-linejoin="round"/>
<circle cx="46.3" cy="220.5" r="2" fill="none" stroke="#d04040" stroke-width="1.0"/>
<circle cx="54.55" cy="229.85" r="2" fill="none" stroke="#d04040" stroke-width="1.0"/>
<circle cx="62.8" cy="229.59" r="2" fill="none" stroke="#d04040" stroke-width="1.0"/>
<circle cx="71.06" cy="230.11" r="2" fill="none" stroke="#d04040" stroke-width="1.0"/>
<circle cx="79.31" cy="230.11" r="2" fill="none" stroke="#d04040" stroke-width="1.0"/>
<circle cx="87.56" cy="230.37" r="2" fill="none" stroke="#d04040" stroke-width="1.0"/>
<circle cx="95.81" cy="230.37" r="2" fill="none" stroke="#d04040" stroke-width="1.0"/>
<circle cx="104.06" cy="230.63" r="2" fill="none" stroke="#d04040" stroke-width="1.0"/>
<circle cx="112.32" cy="230.63" r="2" fill="none" stroke="#d04040" stroke-width="1.0"/>
<circle cx="120.57" cy="230.89" r="2" fill="none" stroke="#d04040" stroke-width="1.0"/>
<circle cx="128.82" cy="230.89" r="2" fill="none" stroke="#d04040" stroke-width="1.0"/>
<circle cx="137.07" cy="230.89" r="2" fill="none" stroke="#d04040" stroke-width="1.0"/>
<circle cx="145.32" cy="231.15" r="2" fill="none" stroke="#d04040" stroke-width="1.0"/>
<circle cx="153.58" cy="231.15" r="2" fill="none" stroke="#d04040" stroke-width="1.0"/>
<circle cx="161.83" cy="231.15" r="2" fill="none" stroke="#d04040" stroke-width="1.0"/>
<circle cx="170.08" cy="231.41" r="2" fill="none" stroke="#d04040" stroke-width="1.0"/>
<circle cx="178.33" cy="231.41" r="2" fill="none" stroke="#d04040" stroke-width="1.0"/>
<circle cx="186.58" cy="231.41" r="2" fill="none" stroke="#d04040" stroke-width="1.0"/>
<circle cx="194.84" cy="231.67" r="2" fill="none" stroke="#d04040" stroke-width="1.0"/>
<circle cx="203.09" cy="231.67" r="2" fill="none" stroke="#d04040" stroke-width="1.0"/>
<circle cx="211.34" cy="231.67" r="2" fill="none" stroke="#d04040" stroke-width="1.0"/>
<circle cx="219.59" cy="231.67" r="2" fill="none" stroke="#d04040" stroke-width="1.0"/>
<circle cx="227.84" cy="231.93" r="2" fill="none" stroke="#d04040" stroke-width="1.0"/>
<circle cx="236.1" cy="231.93" r="2" fill="none" stroke="#d04040" stroke-width="1.0"/>
<circle cx="244.35" cy="231.93" r="2" fill="none" stroke="#d04040" stroke-width="1.0"/>
<path d="M46.3 220.5L54.55 235.82C55.93 235.91 60.05 236.17 62.8 236.34C65.55 236.51 68.31 236.77 71.06 236.86C73.81 236.95 76.56 236.82 79.31 236.86C82.06 236.9 84.81 237.08 87.56 237.12C90.31 237.16 93.06 237.12 95.81 237.12C98.56 237.12 101.31 237.08 104.06 237.12C106.81 237.16 109.57 237.34 112.32 237.38C115.07 237.42 117.82 237.38 120.57 237.38C123.32 237.38 126.07 237.38 128.82 237.38C131.57 237.38 134.32 237.34 137.07 237.38C139.82 237.42 142.57 237.59 145.32 237.64C148.07 237.68 150.83 237.64 153.58 237.64C156.33 237.64 159.08 237.64 161.83 237.64C164.58 237.64 167.33 237.64 170.08 237.64C172.83 237.64 175.58 237.64 178.33 237.64C181.08 237.64 183.83 237.59 186.58 237.64C189.33 237.68 192.09 237.85 194.84 237.9C197.59 237.94 200.34 237.9 203.09 237.9C205.84 237.9 208.59 237.9 211.34 237.9C214.09 237.9 216.84 237.9 219.59 237.9C222.34 237.9 225.09 237.9 227.84 237.9C230.59 237.9 233.35 237.9 236.1 237.9C238.85 237.9 242.97 237.9 244.35 237.9" fill="none" stroke="#d6161f" stroke-width="1.7" stroke-linejoin="round"/>
<circle cx="46.3" cy="220.5" r="2.9" fill="#d6161f"/>
<circle cx="54.55" cy="235.82" r="2.9" fill="#d6161f"/>
<circle cx="62.8" cy="236.34" r="2.9" fill="#d6161f"/>
<circle cx="71.06" cy="236.86" r="2.9" fill="#d6161f"/>
<circle cx="79.31" cy="236.86" r="2.9" fill="#d6161f"/>
<circle cx="87.56" cy="237.12" r="2.9" fill="#d6161f"/>
<circle cx="95.81" cy="237.12" r="2.9" fill="#d6161f"/>
<circle cx="104.06" cy="237.12" r="2.9" fill="#d6161f"/>
<circle cx="112.32" cy="237.38" r="2.9" fill="#d6161f"/>
<circle cx="120.57" cy="237.38" r="2.9" fill="#d6161f"/>
<circle cx="128.82" cy="237.38" r="2.9" fill="#d6161f"/>
<circle cx="137.07" cy="237.38" r="2.9" fill="#d6161f"/>
<circle cx="145.32" cy="237.64" r="2.9" fill="#d6161f"/>
<circle cx="153.58" cy="237.64" r="2.9" fill="#d6161f"/>
<circle cx="161.83" cy="237.64" r="2.9" fill="#d6161f"/>
<circle cx="170.08" cy="237.64" r="2.9" fill="#d6161f"/>
<circle cx="178.33" cy="237.64" r="2.9" fill="#d6161f"/>
<circle cx="186.58" cy="237.64" r="2.9" fill="#d6161f"/>
<circle cx="194.84" cy="237.9" r="2.9" fill="#d6161f"/>
<circle cx="203.09" cy="237.9" r="2.9" fill="#d6161f"/>
<circle cx="211.34" cy="237.9" r="2.9" fill="#d6161f"/>
<circle cx="219.59" cy="237.9" r="2.9" fill="#d6161f"/>
<circle cx="227.84" cy="237.9" r="2.9" fill="#d6161f"/>
<circle cx="236.1" cy="237.9" r="2.9" fill="#d6161f"/>
<circle cx="244.35" cy="237.9" r="2.9" fill="#d6161f"/>
<path d="M46.3 220.5L54.55 293.73C55.93 301.69 60.05 331.51 62.8 341.5C65.55 351.5 68.31 351.63 71.06 353.71C73.81 355.79 76.56 353.93 79.31 353.97C82.06 354.01 84.81 353.93 87.56 353.97C90.31 354.01 93.06 354.19 95.81 354.23C98.56 354.27 101.31 354.23 104.06 354.23C106.81 354.23 109.57 354.23 112.32 354.23C115.07 354.23 117.82 354.23 120.57 354.23C123.32 354.23 126.07 354.23 128.82 354.23C131.57 354.23 134.32 354.23 137.07 354.23C139.82 354.23 142.57 354.23 145.32 354.23C148.07 354.23 150.83 354.19 153.58 354.23C156.33 354.27 159.08 354.44 161.83 354.49C164.58 354.53 167.33 354.49 170.08 354.49C172.83 354.49 175.58 354.49 178.33 354.49C181.08 354.49 183.83 354.49 186.58 354.49C189.33 354.49 192.09 354.49 194.84 354.49C197.59 354.49 200.34 354.49 203.09 354.49C205.84 354.49 208.59 354.49 211.34 354.49C214.09 354.49 216.84 354.49 219.59 354.49C222.34 354.49 225.09 354.49 227.84 354.49C230.59 354.49 233.35 354.49 236.1 354.49C238.85 354.49 242.97 354.49 244.35 354.49" fill="none" stroke="#3424d4" stroke-width="1.7" stroke-linejoin="round"/>
<rect x="43.8" y="218" width="5" height="5" fill="none" stroke="#3424d4" stroke-width="1.1"/>
<rect x="52.05" y="291.23" width="5" height="5" fill="none" stroke="#3424d4" stroke-width="1.1"/>
<rect x="60.3" y="339" width="5" height="5" fill="none" stroke="#3424d4" stroke-width="1.1"/>
<rect x="68.56" y="351.21" width="5" height="5" fill="none" stroke="#3424d4" stroke-width="1.1"/>
<rect x="76.81" y="351.47" width="5" height="5" fill="none" stroke="#3424d4" stroke-width="1.1"/>
<rect x="85.06" y="351.47" width="5" height="5" fill="none" stroke="#3424d4" stroke-width="1.1"/>
<rect x="93.31" y="351.73" width="5" height="5" fill="none" stroke="#3424d4" stroke-width="1.1"/>
<rect x="101.56" y="351.73" width="5" height="5" fill="none" stroke="#3424d4" stroke-width="1.1"/>
<rect x="109.82" y="351.73" width="5" height="5" fill="none" stroke="#3424d4" stroke-width="1.1"/>
<rect x="118.07" y="351.73" width="5" height="5" fill="none" stroke="#3424d4" stroke-width="1.1"/>
<rect x="126.32" y="351.73" width="5" height="5" fill="none" stroke="#3424d4" stroke-width="1.1"/>
<rect x="134.57" y="351.73" width="5" height="5" fill="none" stroke="#3424d4" stroke-width="1.1"/>
<rect x="142.82" y="351.73" width="5" height="5" fill="none" stroke="#3424d4" stroke-width="1.1"/>
<rect x="151.08" y="351.73" width="5" height="5" fill="none" stroke="#3424d4" stroke-width="1.1"/>
<rect x="159.33" y="351.99" width="5" height="5" fill="none" stroke="#3424d4" stroke-width="1.1"/>
<rect x="167.58" y="351.99" width="5" height="5" fill="none" stroke="#3424d4" stroke-width="1.1"/>
<rect x="175.83" y="351.99" width="5" height="5" fill="none" stroke="#3424d4" stroke-width="1.1"/>
<rect x="184.08" y="351.99" width="5" height="5" fill="none" stroke="#3424d4" stroke-width="1.1"/>
<rect x="192.34" y="351.99" width="5" height="5" fill="none" stroke="#3424d4" stroke-width="1.1"/>
<rect x="200.59" y="351.99" width="5" height="5" fill="none" stroke="#3424d4" stroke-width="1.1"/>
<rect x="208.84" y="351.99" width="5" height="5" fill="none" stroke="#3424d4" stroke-width="1.1"/>
<rect x="217.09" y="351.99" width="5" height="5" fill="none" stroke="#3424d4" stroke-width="1.1"/>
<rect x="225.34" y="351.99" width="5" height="5" fill="none" stroke="#3424d4" stroke-width="1.1"/>
<rect x="233.6" y="351.99" width="5" height="5" fill="none" stroke="#3424d4" stroke-width="1.1"/>
<rect x="241.85" y="351.99" width="5" height="5" fill="none" stroke="#3424d4" stroke-width="1.1"/>
<text x="188" y="269.6" font-size="11.4" stroke="#333">1100 ºC</text>
<rect x="104.1" y="279.2" width="76.7" height="47" fill="#fff" stroke="#111" stroke-width="1.4"/>
<line x1="108" y1="289.9" x2="130.7" y2="289.9" stroke="#d04040" stroke-width="1.6"/>
<circle cx="119.7" cy="289.9" r="3" fill="none" stroke="#d04040" stroke-width="1.0"/>
<text class="lg" x="133.09" y="294.22" font-size="12" fill="#c83a3a" textLength="27.61" lengthAdjust="spacingAndGlyphs" stroke="#c83a3a">MSB</text>
<rect x="162.1" y="290.6" width="1.5" height="4.2" fill="#c83a3a"/>
<line x1="108" y1="302.2" x2="130.7" y2="302.2" stroke="#d6161f" stroke-width="1.6"/>
<circle cx="119.7" cy="302.2" r="3.5" fill="#d6161f"/>
<text class="lg" x="133.6" y="306.52" font-size="12" fill="#c83a3a" textLength="42" lengthAdjust="spacingAndGlyphs" stroke="#c83a3a">MSBCe</text>
<line x1="108" y1="315.4" x2="130.7" y2="315.4" stroke="#1e14d0" stroke-width="1.6"/>
<rect x="117.1" y="312.8" width="5.2" height="5.2" fill="none" stroke="#1e14d0" stroke-width="1.0"/>
<text class="lg" x="133.6" y="319.72" font-size="12" fill="#2a22d4" textLength="35.3" lengthAdjust="spacingAndGlyphs" stroke="#2a22d4">MSBA</text>
<line x1="323.3" y1="349.27" x2="542" y2="349.27" stroke="#aca8de" stroke-width="1"/>
<line x1="323.3" y1="323.33" x2="542" y2="323.33" stroke="#aca8de" stroke-width="1"/>
<line x1="323.3" y1="297.4" x2="542" y2="297.4" stroke="#aca8de" stroke-width="1"/>
<line x1="323.3" y1="271.47" x2="542" y2="271.47" stroke="#aca8de" stroke-width="1"/>
<line x1="323.3" y1="245.53" x2="542" y2="245.53" stroke="#aca8de" stroke-width="1"/>
<line x1="367.04" y1="219.6" x2="367.04" y2="375.2" stroke="#aca8de" stroke-width="1"/>
<line x1="410.78" y1="219.6" x2="410.78" y2="375.2" stroke="#aca8de" stroke-width="1"/>
<line x1="454.52" y1="219.6" x2="454.52" y2="375.2" stroke="#aca8de" stroke-width="1"/>
<line x1="498.26" y1="219.6" x2="498.26" y2="375.2" stroke="#aca8de" stroke-width="1"/>
<path d="M323.3 375.2h3M542 375.2h-3M323.3 370.01h1.8M542 370.01h-1.8M323.3 364.83h1.8M542 364.83h-1.8M323.3 359.64h1.8M542 359.64h-1.8M323.3 354.45h1.8M542 354.45h-1.8M323.3 349.27h3M542 349.27h-3M323.3 344.08h1.8M542 344.08h-1.8M323.3 338.89h1.8M542 338.89h-1.8M323.3 333.71h1.8M542 333.71h-1.8M323.3 328.52h1.8M542 328.52h-1.8M323.3 323.33h3M542 323.33h-3M323.3 318.15h1.8M542 318.15h-1.8M323.3 312.96h1.8M542 312.96h-1.8M323.3 307.77h1.8M542 307.77h-1.8M323.3 302.59h1.8M542 302.59h-1.8M323.3 297.4h3M542 297.4h-3M323.3 292.21h1.8M542 292.21h-1.8M323.3 287.03h1.8M542 287.03h-1.8M323.3 281.84h1.8M542 281.84h-1.8M323.3 276.65h1.8M542 276.65h-1.8M323.3 271.47h3M542 271.47h-3M323.3 266.28h1.8M542 266.28h-1.8M323.3 261.09h1.8M542 261.09h-1.8M323.3 255.91h1.8M542 255.91h-1.8M323.3 250.72h1.8M542 250.72h-1.8M323.3 245.53h3M542 245.53h-3M323.3 240.35h1.8M542 240.35h-1.8M323.3 235.16h1.8M542 235.16h-1.8M323.3 229.97h1.8M542 229.97h-1.8M323.3 224.79h1.8M542 224.79h-1.8M323.3 219.6h3M542 219.6h-3M323.3 375.2v-3M323.3 219.6v3M332.05 375.2v-1.8M332.05 219.6v1.8M340.8 375.2v-1.8M340.8 219.6v1.8M349.54 375.2v-1.8M349.54 219.6v1.8M358.29 375.2v-1.8M358.29 219.6v1.8M367.04 375.2v-3M367.04 219.6v3M375.79 375.2v-1.8M375.79 219.6v1.8M384.54 375.2v-1.8M384.54 219.6v1.8M393.28 375.2v-1.8M393.28 219.6v1.8M402.03 375.2v-1.8M402.03 219.6v1.8M410.78 375.2v-3M410.78 219.6v3M419.53 375.2v-1.8M419.53 219.6v1.8M428.28 375.2v-1.8M428.28 219.6v1.8M437.02 375.2v-1.8M437.02 219.6v1.8M445.77 375.2v-1.8M445.77 219.6v1.8M454.52 375.2v-3M454.52 219.6v3M463.27 375.2v-1.8M463.27 219.6v1.8M472.02 375.2v-1.8M472.02 219.6v1.8M480.76 375.2v-1.8M480.76 219.6v1.8M489.51 375.2v-1.8M489.51 219.6v1.8M498.26 375.2v-3M498.26 219.6v3M507.01 375.2v-1.8M507.01 219.6v1.8M515.76 375.2v-1.8M515.76 219.6v1.8M524.5 375.2v-1.8M524.5 219.6v1.8M533.25 375.2v-1.8M533.25 219.6v1.8M542 375.2v-3M542 219.6v3" stroke="#6454d4" stroke-width="1.2" fill="none"/>
<rect x="323.3" y="219.6" width="218.7" height="155.6" fill="none" stroke="#6454d4" stroke-width="1.4"/>
<text x="318" y="376.8" font-size="10" text-anchor="end" stroke="#333">-600</text>
<text x="318" y="350.87" font-size="10" text-anchor="end" stroke="#333">-500</text>
<text x="318" y="324.93" font-size="10" text-anchor="end" stroke="#333">-400</text>
<text x="318" y="299" font-size="10" text-anchor="end" stroke="#333">-300</text>
<text x="318" y="273.07" font-size="10" text-anchor="end" stroke="#333">-200</text>
<text x="318" y="247.13" font-size="10" text-anchor="end" stroke="#333">-100</text>
<text x="318" y="221.2" font-size="10" text-anchor="end" stroke="#333">0</text>
<text x="323.3" y="384.5" font-size="10.2" text-anchor="middle" stroke="#333">0</text>
<text x="367.04" y="384.5" font-size="10.2" text-anchor="middle" stroke="#333">5</text>
<text x="410.78" y="384.5" font-size="10.2" text-anchor="middle" stroke="#333">10</text>
<text x="454.52" y="384.5" font-size="10.2" text-anchor="middle" stroke="#333">15</text>
<text x="498.26" y="384.5" font-size="10.2" text-anchor="middle" stroke="#333">20</text>
<text x="542" y="384.5" font-size="10.2" text-anchor="middle" stroke="#333">25</text>
<path d="M323.3 219.6L332.05 225.31C333.51 225.65 337.88 226.95 340.8 227.38C343.71 227.81 346.63 227.55 349.54 227.9C352.46 228.24 355.38 229.11 358.29 229.45C361.21 229.8 364.12 229.89 367.04 229.97C369.96 230.06 372.87 229.8 375.79 229.97C378.7 230.15 381.62 230.66 384.54 231.01C387.45 231.36 390.37 231.79 393.28 232.05C396.2 232.31 399.12 232.39 402.03 232.57C404.95 232.74 407.86 232.96 410.78 233.09C413.7 233.21 416.61 233.39 419.53 233.34C422.44 233.3 425.36 232.87 428.28 232.83C431.19 232.78 434.11 232.87 437.02 233.09C439.94 233.3 442.86 233.95 445.77 234.12C448.69 234.3 451.6 233.86 454.52 234.12C457.44 234.38 460.35 235.29 463.27 235.68C466.18 236.07 469.1 236.33 472.02 236.46C474.93 236.59 477.85 236.46 480.76 236.46C483.68 236.46 486.6 236.46 489.51 236.46C492.43 236.46 495.34 236.46 498.26 236.46C501.18 236.46 504.09 236.46 507.01 236.46C509.92 236.46 512.84 236.46 515.76 236.46C518.67 236.46 521.59 236.46 524.5 236.46C527.42 236.46 531.79 236.46 533.25 236.46" fill="none" stroke="#d04040" stroke-width="1.6" stroke-linejoin="round"/>
<circle cx="323.3" cy="219.6" r="2.3" fill="none" stroke="#d04040" stroke-width="1.0"/>
<circle cx="332.05" cy="225.31" r="2.3" fill="none" stroke="#d04040" stroke-width="1.0"/>
<circle cx="340.8" cy="227.38" r="2.3" fill="none" stroke="#d04040" stroke-width="1.0"/>
<circle cx="349.54" cy="227.9" r="2.3" fill="none" stroke="#d04040" stroke-width="1.0"/>
<circle cx="358.29" cy="229.45" r="2.3" fill="none" stroke="#d04040" stroke-width="1.0"/>
<circle cx="367.04" cy="229.97" r="2.3" fill="none" stroke="#d04040" stroke-width="1.0"/>
<circle cx="375.79" cy="229.97" r="2.3" fill="none" stroke="#d04040" stroke-width="1.0"/>
<circle cx="384.54" cy="231.01" r="2.3" fill="none" stroke="#d04040" stroke-width="1.0"/>
<circle cx="393.28" cy="232.05" r="2.3" fill="none" stroke="#d04040" stroke-width="1.0"/>
<circle cx="402.03" cy="232.57" r="2.3" fill="none" stroke="#d04040" stroke-width="1.0"/>
<circle cx="410.78" cy="233.09" r="2.3" fill="none" stroke="#d04040" stroke-width="1.0"/>
<circle cx="419.53" cy="233.34" r="2.3" fill="none" stroke="#d04040" stroke-width="1.0"/>
<circle cx="428.28" cy="232.83" r="2.3" fill="none" stroke="#d04040" stroke-width="1.0"/>
<circle cx="437.02" cy="233.09" r="2.3" fill="none" stroke="#d04040" stroke-width="1.0"/>
<circle cx="445.77" cy="234.12" r="2.3" fill="none" stroke="#d04040" stroke-width="1.0"/>
<circle cx="454.52" cy="234.12" r="2.3" fill="none" stroke="#d04040" stroke-width="1.0"/>
<circle cx="463.27" cy="235.68" r="2.3" fill="none" stroke="#d04040" stroke-width="1.0"/>
<circle cx="472.02" cy="236.46" r="2.3" fill="none" stroke="#d04040" stroke-width="1.0"/>
<circle cx="480.76" cy="236.46" r="2.3" fill="none" stroke="#d04040" stroke-width="1.0"/>
<circle cx="489.51" cy="236.46" r="2.3" fill="none" stroke="#d04040" stroke-width="1.0"/>
<circle cx="498.26" cy="236.46" r="2.3" fill="none" stroke="#d04040" stroke-width="1.0"/>
<circle cx="507.01" cy="236.46" r="2.3" fill="none" stroke="#d04040" stroke-width="1.0"/>
<circle cx="515.76" cy="236.46" r="2.3" fill="none" stroke="#d04040" stroke-width="1.0"/>
<circle cx="524.5" cy="236.46" r="2.3" fill="none" stroke="#d04040" stroke-width="1.0"/>
<circle cx="533.25" cy="236.46" r="2.3" fill="none" stroke="#d04040" stroke-width="1.0"/>
<path d="M323.3 219.6L332.05 242.68C333.51 242.68 337.88 242.55 340.8 242.68C343.71 242.81 346.63 243.24 349.54 243.46C352.46 243.67 355.38 243.8 358.29 243.98C361.21 244.15 364.12 244.41 367.04 244.5C369.96 244.58 372.87 244.41 375.79 244.5C378.7 244.58 381.62 244.88 384.54 245.01C387.45 245.14 390.37 245.19 393.28 245.27C396.2 245.36 399.12 245.49 402.03 245.53C404.95 245.58 407.86 245.53 410.78 245.53C413.7 245.53 416.61 245.53 419.53 245.53C422.44 245.53 425.36 245.53 428.28 245.53C431.19 245.53 434.11 245.53 437.02 245.53C439.94 245.53 442.86 245.53 445.77 245.53C448.69 245.53 451.6 245.53 454.52 245.53C457.44 245.53 460.35 245.53 463.27 245.53C466.18 245.53 469.1 245.53 472.02 245.53C474.93 245.53 477.85 245.53 480.76 245.53C483.68 245.53 486.6 245.53 489.51 245.53C492.43 245.53 495.34 245.53 498.26 245.53C501.18 245.53 504.09 245.53 507.01 245.53C509.92 245.53 512.84 245.53 515.76 245.53C518.67 245.53 521.59 245.53 524.5 245.53C527.42 245.53 531.79 245.53 533.25 245.53" fill="none" stroke="#d6161f" stroke-width="1.7" stroke-linejoin="round"/>
<circle cx="323.3" cy="219.6" r="3.2" fill="#d6161f"/>
<circle cx="332.05" cy="242.68" r="3.2" fill="#d6161f"/>
<circle cx="340.8" cy="242.68" r="3.2" fill="#d6161f"/>
<circle cx="349.54" cy="243.46" r="3.2" fill="#d6161f"/>
<circle cx="358.29" cy="243.98" r="3.2" fill="#d6161f"/>
<circle cx="367.04" cy="244.5" r="3.2" fill="#d6161f"/>
<circle cx="375.79" cy="244.5" r="3.2" fill="#d6161f"/>
<circle cx="384.54" cy="245.01" r="3.2" fill="#d6161f"/>
<circle cx="393.28" cy="245.27" r="3.2" fill="#d6161f"/>
<circle cx="402.03" cy="245.53" r="3.2" fill="#d6161f"/>
<circle cx="410.78" cy="245.53" r="3.2" fill="#d6161f"/>
<circle cx="419.53" cy="245.53" r="3.2" fill="#d6161f"/>
<circle cx="428.28" cy="245.53" r="3.2" fill="#d6161f"/>
<circle cx="437.02" cy="245.53" r="3.2" fill="#d6161f"/>
<circle cx="445.77" cy="245.53" r="3.2" fill="#d6161f"/>
<circle cx="454.52" cy="245.53" r="3.2" fill="#d6161f"/>
<circle cx="463.27" cy="245.53" r="3.2" fill="#d6161f"/>
<circle cx="472.02" cy="245.53" r="3.2" fill="#d6161f"/>
<circle cx="480.76" cy="245.53" r="3.2" fill="#d6161f"/>
<circle cx="489.51" cy="245.53" r="3.2" fill="#d6161f"/>
<circle cx="498.26" cy="245.53" r="3.2" fill="#d6161f"/>
<circle cx="507.01" cy="245.53" r="3.2" fill="#d6161f"/>
<circle cx="515.76" cy="245.53" r="3.2" fill="#d6161f"/>
<circle cx="524.5" cy="245.53" r="3.2" fill="#d6161f"/>
<circle cx="533.25" cy="245.53" r="3.2" fill="#d6161f"/>
<path d="M323.3 219.6L332.05 323.59C333.51 327.96 337.88 344.04 340.8 349.79C343.71 355.53 346.63 356.53 349.54 358.08C352.46 359.64 355.38 358.95 358.29 359.12C361.21 359.29 364.12 358.91 367.04 359.12C369.96 359.34 372.87 360.16 375.79 360.42C378.7 360.68 381.62 360.59 384.54 360.68C387.45 360.76 390.37 360.89 393.28 360.94C396.2 360.98 399.12 360.94 402.03 360.94C404.95 360.94 407.86 360.94 410.78 360.94C413.7 360.94 416.61 360.94 419.53 360.94C422.44 360.94 425.36 360.94 428.28 360.94C431.19 360.94 434.11 360.94 437.02 360.94C439.94 360.94 442.86 360.94 445.77 360.94C448.69 360.94 451.6 360.94 454.52 360.94C457.44 360.94 460.35 360.94 463.27 360.94C466.18 360.94 469.1 360.94 472.02 360.94C474.93 360.94 477.85 360.94 480.76 360.94C483.68 360.94 486.6 360.94 489.51 360.94C492.43 360.94 495.34 360.94 498.26 360.94C501.18 360.94 504.09 360.94 507.01 360.94C509.92 360.94 512.84 360.94 515.76 360.94C518.67 360.94 521.59 360.94 524.5 360.94C527.42 360.94 531.79 360.94 533.25 360.94" fill="none" stroke="#3424d4" stroke-width="1.7" stroke-linejoin="round"/>
<rect x="320.8" y="217.1" width="5" height="5" fill="none" stroke="#3424d4" stroke-width="1.1"/>
<rect x="329.55" y="321.09" width="5" height="5" fill="none" stroke="#3424d4" stroke-width="1.1"/>
<rect x="338.3" y="347.29" width="5" height="5" fill="none" stroke="#3424d4" stroke-width="1.1"/>
<rect x="347.04" y="355.58" width="5" height="5" fill="none" stroke="#3424d4" stroke-width="1.1"/>
<rect x="355.79" y="356.62" width="5" height="5" fill="none" stroke="#3424d4" stroke-width="1.1"/>
<rect x="364.54" y="356.62" width="5" height="5" fill="none" stroke="#3424d4" stroke-width="1.1"/>
<rect x="373.29" y="357.92" width="5" height="5" fill="none" stroke="#3424d4" stroke-width="1.1"/>
<rect x="382.04" y="358.18" width="5" height="5" fill="none" stroke="#3424d4" stroke-width="1.1"/>
<rect x="390.78" y="358.44" width="5" height="5" fill="none" stroke="#3424d4" stroke-width="1.1"/>
<rect x="399.53" y="358.44" width="5" height="5" fill="none" stroke="#3424d4" stroke-width="1.1"/>
<rect x="408.28" y="358.44" width="5" height="5" fill="none" stroke="#3424d4" stroke-width="1.1"/>
<rect x="417.03" y="358.44" width="5" height="5" fill="none" stroke="#3424d4" stroke-width="1.1"/>
<rect x="425.78" y="358.44" width="5" height="5" fill="none" stroke="#3424d4" stroke-width="1.1"/>
<rect x="434.52" y="358.44" width="5" height="5" fill="none" stroke="#3424d4" stroke-width="1.1"/>
<rect x="443.27" y="358.44" width="5" height="5" fill="none" stroke="#3424d4" stroke-width="1.1"/>
<rect x="452.02" y="358.44" width="5" height="5" fill="none" stroke="#3424d4" stroke-width="1.1"/>
<rect x="460.77" y="358.44" width="5" height="5" fill="none" stroke="#3424d4" stroke-width="1.1"/>
<rect x="469.52" y="358.44" width="5" height="5" fill="none" stroke="#3424d4" stroke-width="1.1"/>
<rect x="478.26" y="358.44" width="5" height="5" fill="none" stroke="#3424d4" stroke-width="1.1"/>
<rect x="487.01" y="358.44" width="5" height="5" fill="none" stroke="#3424d4" stroke-width="1.1"/>
<rect x="495.76" y="358.44" width="5" height="5" fill="none" stroke="#3424d4" stroke-width="1.1"/>
<rect x="504.51" y="358.44" width="5" height="5" fill="none" stroke="#3424d4" stroke-width="1.1"/>
<rect x="513.26" y="358.44" width="5" height="5" fill="none" stroke="#3424d4" stroke-width="1.1"/>
<rect x="522" y="358.44" width="5" height="5" fill="none" stroke="#3424d4" stroke-width="1.1"/>
<rect x="530.75" y="358.44" width="5" height="5" fill="none" stroke="#3424d4" stroke-width="1.1"/>
<text x="481.4" y="266.8" font-size="12.4" stroke="#333">1300 ºC</text>
<rect x="400.1" y="281.2" width="68.4" height="42.1" fill="#fff" stroke="#111" stroke-width="1.4"/>
<line x1="403" y1="290.3" x2="422.6" y2="290.3" stroke="#d04040" stroke-width="1.6"/>
<circle cx="413.2" cy="290.3" r="2.9" fill="none" stroke="#d04040" stroke-width="1.0"/>
<text class="lg" x="424.75" y="294.33" font-size="11.2" fill="#c83a3a" textLength="25.21" lengthAdjust="spacingAndGlyphs" stroke="#c83a3a">MSB</text>
<rect x="450.6" y="291.2" width="1.4" height="3.4" fill="#c83a3a"/>
<line x1="403" y1="302.2" x2="422.6" y2="302.2" stroke="#d6161f" stroke-width="1.6"/>
<circle cx="413.2" cy="302.2" r="3.4" fill="#d6161f"/>
<text class="lg" x="425.5" y="306.23" font-size="11.2" fill="#c83a3a" textLength="38" lengthAdjust="spacingAndGlyphs" stroke="#c83a3a">MSBCe</text>
<line x1="403" y1="314" x2="422.6" y2="314" stroke="#1e14d0" stroke-width="1.6"/>
<rect x="410.7" y="311.5" width="5" height="5" fill="none" stroke="#1e14d0" stroke-width="1.0"/>
<text class="lg" x="425.5" y="318.03" font-size="11.2" fill="#2a22d4" textLength="32.4" lengthAdjust="spacingAndGlyphs" stroke="#2a22d4">MSBA</text>
<rect x="320.7" y="7.9" width="5.4" height="5.4" fill="#c81830" stroke="#3a2ad0" stroke-width="1"/>
<rect x="43.6" y="217.8" width="5.4" height="5.4" fill="#c81830" stroke="#3a2ad0" stroke-width="1"/>
<rect x="320.6" y="216.9" width="5.4" height="5.4" fill="#c81830" stroke="#3a2ad0" stroke-width="1"/>
<text transform="translate(14.8 163.2) rotate(-90)" font-size="11.5" textLength="122" lengthAdjust="spacingAndGlyphs" stroke="#333">Mass change (mg/cm<tspan font-size="7.13" dy="-4.6">2</tspan><tspan dy="4.6">)</tspan></text>
<text transform="translate(288.6 165.6) rotate(-90)" font-size="11.5" textLength="121.8" lengthAdjust="spacingAndGlyphs" stroke="#333">Mass change (mg/cm<tspan font-size="7.13" dy="-4.6">2</tspan><tspan dy="4.6">)</tspan></text>
<text transform="translate(14.8 367.6) rotate(-90)" font-size="11.5" textLength="122.6" lengthAdjust="spacingAndGlyphs" stroke="#333">Mass change (mg/cm<tspan font-size="7.13" dy="-4.6">2</tspan><tspan dy="4.6">)</tspan></text>
<text transform="translate(288.8 364.6) rotate(-90)" font-size="11.5" textLength="121" lengthAdjust="spacingAndGlyphs" stroke="#333">Mass change (mg/cm<tspan font-size="7.13" dy="-4.6">2</tspan><tspan dy="4.6">)</tspan></text>
<text x="123.6" y="208.3" font-size="11.5" textLength="42.2" lengthAdjust="spacingAndGlyphs" stroke="#333">Time (h)</text>
<text x="405.5" y="210" font-size="12.2" textLength="45.4" lengthAdjust="spacingAndGlyphs" stroke="#333">Time (h)</text>
<text x="122.7" y="403.6" font-size="12" textLength="42.4" lengthAdjust="spacingAndGlyphs" stroke="#333">Time (h)</text>
<text x="407.6" y="402.7" font-size="12.2" textLength="45.1" lengthAdjust="spacingAndGlyphs" stroke="#333">Time (h)</text>
<text x="2.5" y="17.9" style="font-family:'Liberation Serif',serif" font-weight="bold" font-size="17" fill="#111" textLength="19.4" lengthAdjust="spacingAndGlyphs" stroke="#111">(a)</text>
<text x="276.3" y="16.4" style="font-family:'Liberation Serif',serif" font-weight="bold" font-size="17" fill="#111" textLength="19.8" lengthAdjust="spacingAndGlyphs" stroke="#111">(b)</text>
<text x="3.9" y="225.5" style="font-family:'Liberation Serif',serif" font-weight="bold" font-size="17" fill="#111" textLength="17.6" lengthAdjust="spacingAndGlyphs" stroke="#111">(c)</text>
<text x="277" y="226.7" style="font-family:'Liberation Serif',serif" font-weight="bold" font-size="17" fill="#111" textLength="19.8" lengthAdjust="spacingAndGlyphs" stroke="#111">(d)</text>
</g>
</svg>
</body></html>
